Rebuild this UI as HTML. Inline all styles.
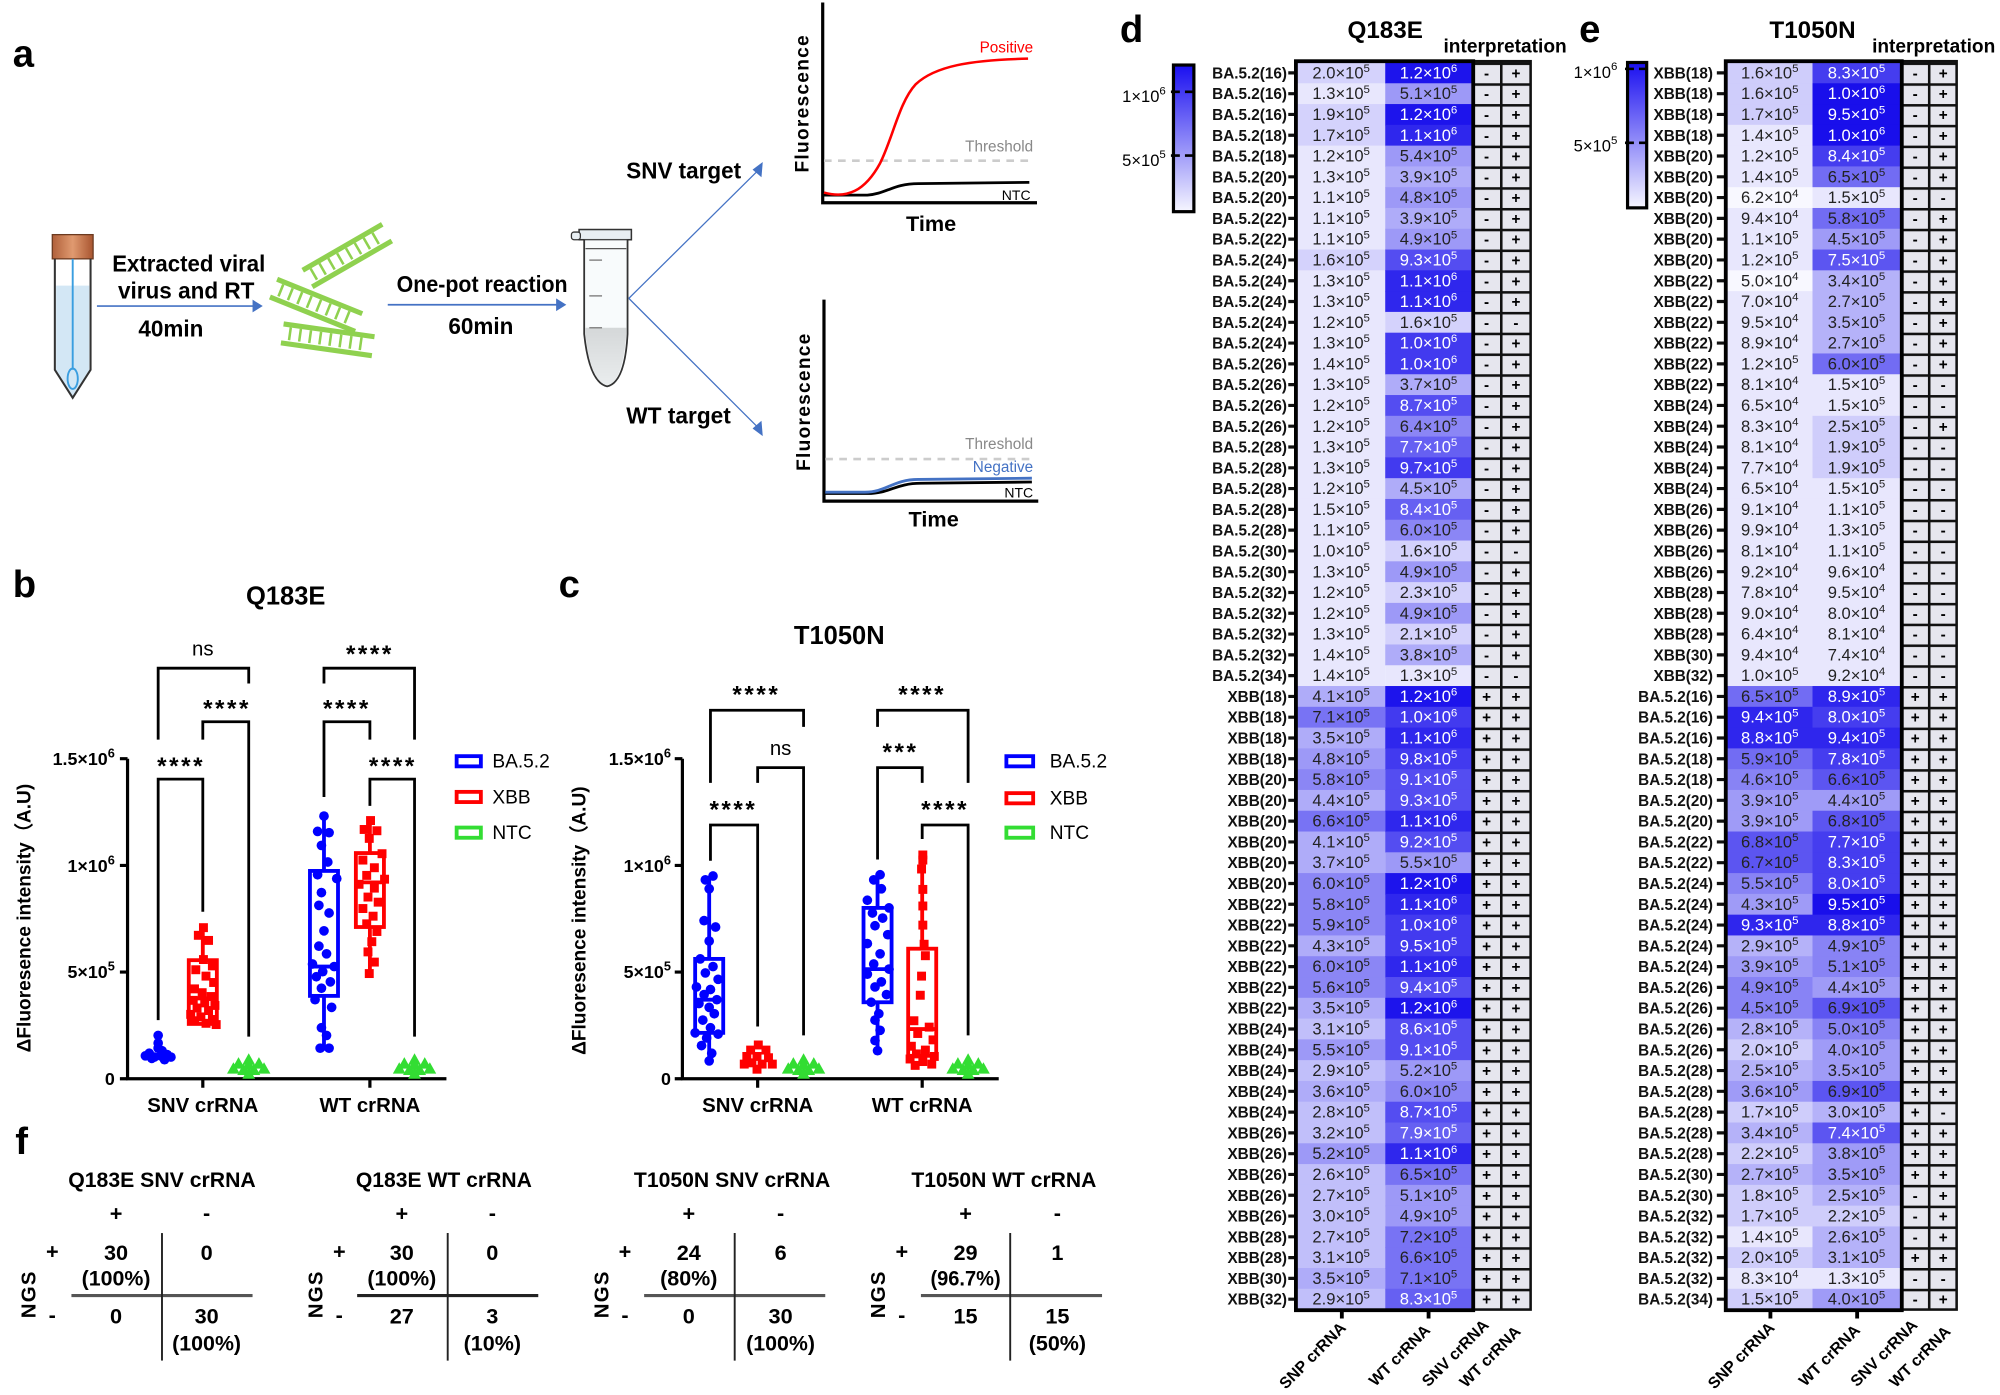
<!DOCTYPE html>
<html><head><meta charset="utf-8">
<style>
html,body{margin:0;padding:0;background:#fff}
svg{display:block}
text{font-family:"Liberation Sans",sans-serif}
.rl{font-weight:bold;font-size:12px;text-anchor:end;fill:#111}
.cv{font-size:13px;text-anchor:middle;fill:#222}
.s{font-size:9px}
.w{fill:#fff}
.ip{font-weight:bold;font-size:12px;text-anchor:middle}
.a0{fill:rgb(248,248,255)}.a1{fill:rgb(232,231,253)}.a2{fill:rgb(212,210,252)}.a3{fill:rgb(193,191,250)}.a4{fill:rgb(175,172,249)}.a5{fill:rgb(157,153,247)}.a6{fill:rgb(139,134,245)}.a7{fill:rgb(120,115,244)}.a8{fill:rgb(102,96,242)}.a9{fill:rgb(84,77,241)}.a10{fill:rgb(66,58,239)}.a11{fill:rgb(47,39,237)}.a12{fill:rgb(29,20,236)}
.b0{fill:rgb(248,248,255)}.b1{fill:rgb(232,231,253)}.b2{fill:rgb(207,205,251)}.b3{fill:rgb(181,178,249)}.b4{fill:rgb(159,155,247)}.b5{fill:rgb(136,131,245)}.b6{fill:rgb(114,108,243)}.b7{fill:rgb(92,85,241)}.b8{fill:rgb(69,61,239)}.b9{fill:rgb(47,38,237)}.b10{fill:rgb(25,15,235)}
.tk{font-weight:bold;font-size:14px;text-anchor:end}
.xl{font-weight:bold;font-size:16px;text-anchor:middle}
.st{font-weight:bold;font-size:19px;text-anchor:middle;letter-spacing:2px}
.lg{font-size:15px}
.pl{font-weight:bold;font-size:30px}
.fx{font-size:17px;text-anchor:middle}
.ax{stroke:#000;stroke-width:2.5;fill:none}
.br{stroke:#000;stroke-width:2.2;fill:none}
</style></head><body>
<svg width="2000" height="1395" viewBox="0 0 1568 1094" preserveAspectRatio="none" xmlns="http://www.w3.org/2000/svg">
<defs>
<linearGradient id="cb" x1="0" y1="0" x2="0" y2="1"><stop offset="0" stop-color="#1a0ff0"/><stop offset="1" stop-color="#f6f6ff"/></linearGradient>
<linearGradient id="cap" x1="0" y1="0" x2="1" y2="0"><stop offset="0" stop-color="#b0603a"/><stop offset=".5" stop-color="#e09a70"/><stop offset="1" stop-color="#a85530"/></linearGradient>
<linearGradient id="liq" x1="0" y1="0" x2="0" y2="1"><stop offset="0" stop-color="#c4c4c4"/><stop offset="1" stop-color="#e8e8e8"/></linearGradient>
<pattern id="hp" patternUnits="userSpaceOnUse" x="0" y="49" width="1600" height="16.3"><rect width="1600" height="16.3" fill="#e6e6ee"/><rect width="1600" height="2" fill="#111"/></pattern>
</defs>

<text x="10" y="52" class="pl">a</text>
<text x="10" y="468" class="pl">b</text>
<text x="438" y="468" class="pl">c</text>
<text x="878" y="33" class="pl">d</text>
<text x="1238" y="33" class="pl">e</text>
<text x="12" y="905" class="pl">f</text>

<!-- ===== panel a ===== -->
<rect x="41" y="184" width="32" height="19" fill="url(#cap)" stroke="#6b3a20" stroke-width="1"/>
<path d="M44,224 L70,224 L70,290 L57,311 L44,290 Z" fill="#d3e7f5"/>
<path d="M43,203 L43,290 L57,312 L71,290 L71,203" fill="none" stroke="#333" stroke-width="1.6"/>
<line x1="57" y1="203" x2="57" y2="290" stroke="#3a9ee0" stroke-width="1.5"/>
<ellipse cx="57" cy="297" rx="4" ry="8" fill="none" stroke="#3a9ee0" stroke-width="1.5"/>
<text x="148" y="213" font-weight="bold" font-size="18" text-anchor="middle" textLength="120" lengthAdjust="spacingAndGlyphs">Extracted viral</text>
<text x="146" y="234" font-weight="bold" font-size="18" text-anchor="middle" textLength="107" lengthAdjust="spacingAndGlyphs">virus and RT</text>
<text x="134" y="264" font-weight="bold" font-size="18" text-anchor="middle" textLength="51" lengthAdjust="spacingAndGlyphs">40min</text>
<line x1="76" y1="240" x2="200" y2="240" stroke="#4472c4" stroke-width="1.3"/>
<polygon points="198,235 206,240 198,245" fill="#4472c4"/>
<g stroke="#8fd14f" fill="none">
<g transform="translate(272,200) rotate(-30)"><line x1="-36" y1="-7" x2="36" y2="-7" stroke-width="4"/><line x1="-36" y1="8" x2="36" y2="8" stroke-width="4"/><path d="M-30,-5v10M-22,-5v10M-14,-5v10M-6,-5v10M2,-5v10M10,-5v10M18,-5v10M26,-5v10" stroke-width="2"/></g>
<g transform="translate(248,239) rotate(22)"><line x1="-36" y1="-7" x2="36" y2="-7" stroke-width="4"/><line x1="-36" y1="8" x2="36" y2="8" stroke-width="4"/><path d="M-30,-5v10M-22,-5v10M-14,-5v10M-6,-5v10M2,-5v10M10,-5v10M18,-5v10M26,-5v10" stroke-width="2"/></g>
<g transform="translate(257,266) rotate(8)"><line x1="-36" y1="-7" x2="36" y2="-7" stroke-width="4"/><line x1="-36" y1="8" x2="36" y2="8" stroke-width="4"/><path d="M-30,-5v10M-22,-5v10M-14,-5v10M-6,-5v10M2,-5v10M10,-5v10M18,-5v10M26,-5v10" stroke-width="2"/></g>
</g>
<text x="378" y="229" font-weight="bold" font-size="18" text-anchor="middle" textLength="134" lengthAdjust="spacingAndGlyphs">One-pot reaction</text>
<text x="377" y="262" font-weight="bold" font-size="18" text-anchor="middle" textLength="51" lengthAdjust="spacingAndGlyphs">60min</text>
<line x1="304" y1="239" x2="438" y2="239" stroke="#4472c4" stroke-width="1.3"/>
<polygon points="436,234 444,239 436,244" fill="#4472c4"/>
<rect x="454" y="180" width="41" height="8" fill="#e8eef2" stroke="#333" stroke-width="1.2"/>
<rect x="448" y="182" width="7" height="6" rx="2" fill="#e8eef2" stroke="#333" stroke-width="1"/>
<path d="M459,257 L491,257 L491,262 Q488,300 476,302 Q463,300 459,262 Z" fill="url(#liq)"/>
<path d="M458,188 L458,262 Q462,300 476,303 Q490,300 492,262 L492,188" fill="#eef4f8" fill-opacity=".4" stroke="#333" stroke-width="1.4"/>
<line x1="459" y1="195" x2="491" y2="195" stroke="#555" stroke-width="1"/>
<path d="M462,204h10M462,232h10M462,257h10" stroke="#888" stroke-width="1.2"/>
<line x1="493" y1="234" x2="596" y2="132" stroke="#4472c4" stroke-width="1"/>
<polygon points="598,127 597,139 590,133" fill="#4472c4"/>
<line x1="493" y1="234" x2="596" y2="337" stroke="#4472c4" stroke-width="1"/>
<polygon points="598,342 590,336 597,330" fill="#4472c4"/>
<text x="536" y="140" font-weight="bold" font-size="18" text-anchor="middle" textLength="90" lengthAdjust="spacingAndGlyphs">SNV target</text>
<text x="532" y="332" font-weight="bold" font-size="18" text-anchor="middle" textLength="82" lengthAdjust="spacingAndGlyphs">WT target</text>
<path d="M645,2 L645,159 L813,159" class="ax"/>
<line x1="646" y1="126" x2="806" y2="126" stroke="#ccc" stroke-width="2" stroke-dasharray="6 5"/>
<path d="M646,153 L680,153 C695,152 700,144 720,144 L807,143" stroke="#000" stroke-width="2.2" fill="none"/>
<path d="M646,151 C664,156 678,150 690,128 C700,108 705,80 718,66 C733,52 760,47 806,46" stroke="#f00" stroke-width="2" fill="none"/>
<text x="810" y="41" font-size="12" fill="#f00" text-anchor="end">Positive</text>
<text x="810" y="119" font-size="12" fill="#888" text-anchor="end">Threshold</text>
<text x="808" y="157" font-size="11" text-anchor="end">NTC</text>
<text transform="translate(634,81) rotate(-90)" font-weight="bold" font-size="15" text-anchor="middle" letter-spacing="1">Fluorescence</text>
<text x="730" y="181" font-weight="bold" font-size="17" text-anchor="middle">Time</text>
<path d="M646,235 L646,393 L814,393" class="ax"/>
<line x1="647" y1="360" x2="808" y2="360" stroke="#ccc" stroke-width="2" stroke-dasharray="6 5"/>
<path d="M647,387 L680,387 C698,387 702,379 722,379 L809,378" stroke="#000" stroke-width="2.2" fill="none"/>
<path d="M647,386 L678,386 C695,386 700,376 720,376 L809,375" stroke="#4472c4" stroke-width="2.2" fill="none"/>
<text x="810" y="352" font-size="12" fill="#888" text-anchor="end">Threshold</text>
<text x="810" y="370" font-size="12" fill="#4472c4" text-anchor="end">Negative</text>
<text x="810" y="390" font-size="11" text-anchor="end">NTC</text>
<text transform="translate(635,315) rotate(-90)" font-weight="bold" font-size="15" text-anchor="middle" letter-spacing="1">Fluorescence</text>
<text x="732" y="413" font-weight="bold" font-size="17" text-anchor="middle">Time</text>

<!-- ===== panel b ===== -->
<text x="224" y="474" font-weight="bold" font-size="20" text-anchor="middle">Q183E</text>
<path d="M100,595 L100,846 L350,846" class="ax"/>
<path d="M94,595H100M94,678.7H100M94,762.3H100M94,846H100M159,846V853M290,846V853" class="ax"/>
<text x="90" y="600" class="tk">1.5×10<tspan dy="-6" font-size="10">6</tspan></text>
<text x="90" y="684" class="tk">1×10<tspan dy="-6" font-size="10">6</tspan></text>
<text x="90" y="767" class="tk">5×10<tspan dy="-6" font-size="10">5</tspan></text>
<text x="90" y="851" class="tk">0</text>
<text x="159" y="872" class="xl">SNV crRNA</text>
<text x="290" y="872" class="xl">WT crRNA</text>
<text transform="translate(24,720) rotate(-90)" font-weight="bold" font-size="15" text-anchor="middle">ΔFluoresence intensity（A.U)</text>
<path d="M124,580V524H195V536M159,580V566H195V813M124,800V611H159V715M254,536V524H325V580M254,625V566H290V580M290,632V611H325V813" class="br"/>
<text x="159" y="514" font-size="16" text-anchor="middle">ns</text>
<text x="178" y="562" class="st">****</text>
<text x="142" y="607" class="st">****</text>
<text x="290" y="519" class="st">****</text>
<text x="272" y="562" class="st">****</text>
<text x="308" y="607" class="st">****</text>
<rect x="358" y="593" width="19" height="8" fill="none" stroke="#00f" stroke-width="3"/>
<rect x="358" y="621" width="19" height="8" fill="none" stroke="#f00" stroke-width="3"/>
<rect x="358" y="649" width="19" height="8" fill="none" stroke="#3d3" stroke-width="3"/>
<text x="386" y="602" class="lg">BA.5.2</text><text x="386" y="630" class="lg">XBB</text><text x="386" y="658" class="lg">NTC</text>
<g fill="#00f">
<circle cx="117" cy="826" r="3.8"/><circle cx="121" cy="829" r="3.8"/><circle cx="126" cy="828" r="3.8"/><circle cx="131" cy="827" r="3.8"/><circle cx="124" cy="822" r="3.8"/><circle cx="119" cy="830" r="3.8"/><circle cx="129" cy="831" r="3.8"/><circle cx="124" cy="818" r="3.8"/><circle cx="124" cy="812" r="3.8"/><circle cx="114" cy="828" r="3.8"/><circle cx="134" cy="829" r="3.8"/><circle cx="127" cy="824" r="3.8"/>
</g>
<g stroke="#f00" stroke-width="3" fill="none"><line x1="159" y1="726" x2="159" y2="753"/><rect x="148" y="753" width="22" height="50"/><line x1="148" y1="783" x2="170" y2="783"/></g>
<g fill="#f00">
<rect x="156" y="724" width="7" height="7"/><rect x="152" y="730" width="7" height="7"/><rect x="160" y="734" width="7" height="7"/><rect x="156" y="749" width="7" height="7"/><rect x="163" y="754" width="7" height="7"/><rect x="150" y="757" width="7" height="7"/><rect x="158" y="762" width="7" height="7"/><rect x="164" y="767" width="7" height="7"/><rect x="149" y="772" width="7" height="7"/><rect x="155" y="775" width="7" height="7"/><rect x="162" y="778" width="7" height="7"/><rect x="148" y="781" width="7" height="7"/><rect x="157" y="783" width="7" height="7"/><rect x="165" y="785" width="7" height="7"/><rect x="151" y="787" width="7" height="7"/><rect x="160" y="789" width="7" height="7"/><rect x="146" y="792" width="7" height="7"/><rect x="154" y="794" width="7" height="7"/><rect x="163" y="796" width="7" height="7"/><rect x="149" y="797" width="7" height="7"/><rect x="158" y="799" width="7" height="7"/><rect x="166" y="800" width="7" height="7"/>
</g>
<g fill="#3d3">
<polygon points="195,826 190,835 200,835"/><polygon points="187,829 182,838 192,838"/><polygon points="203,829 198,838 208,838"/><polygon points="191,834 186,843 196,843"/><polygon points="199,834 194,843 204,843"/><polygon points="195,837 190,846 200,846"/><polygon points="183,833 178,842 188,842"/><polygon points="207,833 202,842 212,842"/><polygon points="195,830 190,839 200,839"/>
<polygon points="325,826 320,835 330,835"/><polygon points="317,829 312,838 322,838"/><polygon points="333,829 328,838 338,838"/><polygon points="321,834 316,843 326,843"/><polygon points="329,834 324,843 334,843"/><polygon points="325,837 320,846 330,846"/><polygon points="313,833 308,842 318,842"/><polygon points="337,833 332,842 342,842"/><polygon points="325,830 320,839 330,839"/>
</g>
<g stroke="#00f" stroke-width="3" fill="none"><line x1="254" y1="638" x2="254" y2="683"/><line x1="254" y1="781" x2="254" y2="824"/><rect x="243" y="683" width="22" height="98"/><line x1="243" y1="758" x2="265" y2="758"/></g>
<g fill="#00f">
<circle cx="254" cy="640" r="3.8"/><circle cx="249" cy="652" r="3.8"/><circle cx="258" cy="653" r="3.8"/><circle cx="252" cy="663" r="3.8"/><circle cx="257" cy="676" r="3.8"/><circle cx="249" cy="686" r="3.8"/><circle cx="264" cy="689" r="3.8"/><circle cx="252" cy="700" r="3.8"/><circle cx="250" cy="710" r="3.8"/><circle cx="258" cy="716" r="3.8"/><circle cx="254" cy="730" r="3.8"/><circle cx="250" cy="742" r="3.8"/><circle cx="256" cy="748" r="3.8"/><circle cx="245" cy="756" r="3.8"/><circle cx="262" cy="758" r="3.8"/><circle cx="253" cy="762" r="3.8"/><circle cx="248" cy="766" r="3.8"/><circle cx="259" cy="770" r="3.8"/><circle cx="252" cy="775" r="3.8"/><circle cx="247" cy="784" r="3.8"/><circle cx="260" cy="790" r="3.8"/><circle cx="252" cy="806" r="3.8"/><circle cx="256" cy="812" r="3.8"/><circle cx="251" cy="822" r="3.8"/><circle cx="258" cy="822" r="3.8"/>
</g>
<g stroke="#f00" stroke-width="3" fill="none"><line x1="290" y1="643" x2="290" y2="669"/><line x1="290" y1="727" x2="290" y2="764"/><rect x="279" y="669" width="22" height="58"/><line x1="279" y1="692" x2="301" y2="692"/></g>
<g fill="#f00">
<rect x="287" y="640" width="7" height="7"/><rect x="282" y="647" width="7" height="7"/><rect x="292" y="648" width="7" height="7"/><rect x="286" y="654" width="7" height="7"/><rect x="296" y="666" width="7" height="7"/><rect x="281" y="671" width="7" height="7"/><rect x="290" y="677" width="7" height="7"/><rect x="284" y="683" width="7" height="7"/><rect x="298" y="686" width="7" height="7"/><rect x="278" y="690" width="7" height="7"/><rect x="290" y="693" width="7" height="7"/><rect x="285" y="700" width="7" height="7"/><rect x="293" y="704" width="7" height="7"/><rect x="281" y="709" width="7" height="7"/><rect x="289" y="715" width="7" height="7"/><rect x="284" y="721" width="7" height="7"/><rect x="292" y="727" width="7" height="7"/><rect x="288" y="735" width="7" height="7"/><rect x="285" y="743" width="7" height="7"/><rect x="290" y="751" width="7" height="7"/><rect x="286" y="760" width="7" height="7"/>
</g>

<!-- ===== panel c ===== -->
<text x="658" y="505" font-weight="bold" font-size="20" text-anchor="middle">T1050N</text>
<path d="M535,595 L535,846 L783,846" class="ax"/>
<path d="M529,595H535M529,678.7H535M529,762.3H535M529,846H535M594,846V853M723,846V853" class="ax"/>
<text x="526" y="600" class="tk">1.5×10<tspan dy="-6" font-size="10">6</tspan></text>
<text x="526" y="684" class="tk">1×10<tspan dy="-6" font-size="10">6</tspan></text>
<text x="526" y="767" class="tk">5×10<tspan dy="-6" font-size="10">5</tspan></text>
<text x="526" y="851" class="tk">0</text>
<text x="594" y="872" class="xl">SNV crRNA</text>
<text x="723" y="872" class="xl">WT crRNA</text>
<text transform="translate(459,722) rotate(-90)" font-weight="bold" font-size="15" text-anchor="middle">ΔFluoresence intensity（A.U)</text>
<path d="M557,614V557H630V570M594,614V602H630V812M557,675V647H594V805M688,570V557H759V614M688,674V602H723V614M723,658V647H759V812" class="br"/>
<text x="593" y="551" class="st">****</text>
<text x="612" y="592" font-size="16" text-anchor="middle">ns</text>
<text x="575" y="641" class="st">****</text>
<text x="723" y="551" class="st">****</text>
<text x="706" y="596" class="st">***</text>
<text x="741" y="641" class="st">****</text>
<rect x="789" y="593" width="21" height="8" fill="none" stroke="#00f" stroke-width="3"/>
<rect x="789" y="622" width="21" height="8" fill="none" stroke="#f00" stroke-width="3"/>
<rect x="789" y="649" width="21" height="8" fill="none" stroke="#3d3" stroke-width="3"/>
<text x="823" y="602" class="lg">BA.5.2</text><text x="823" y="631" class="lg">XBB</text><text x="823" y="658" class="lg">NTC</text>
<g transform="translate(-3,0)">
<g stroke="#00f" stroke-width="3" fill="none"><line x1="559" y1="687" x2="559" y2="752"/><line x1="559" y1="810" x2="559" y2="832"/><rect x="548" y="752" width="22" height="58"/><line x1="548" y1="784" x2="570" y2="784"/></g>
<g fill="#00f">
<circle cx="562" cy="687" r="3.8"/><circle cx="556" cy="690" r="3.8"/><circle cx="559" cy="697" r="3.8"/><circle cx="555" cy="722" r="3.8"/><circle cx="564" cy="727" r="3.8"/><circle cx="559" cy="738" r="3.8"/><circle cx="552" cy="752" r="3.8"/><circle cx="562" cy="758" r="3.8"/><circle cx="556" cy="763" r="3.8"/><circle cx="566" cy="768" r="3.8"/><circle cx="549" cy="774" r="3.8"/><circle cx="560" cy="776" r="3.8"/><circle cx="555" cy="780" r="3.8"/><circle cx="565" cy="784" r="3.8"/><circle cx="551" cy="787" r="3.8"/><circle cx="559" cy="790" r="3.8"/><circle cx="563" cy="795" r="3.8"/><circle cx="554" cy="800" r="3.8"/><circle cx="560" cy="806" r="3.8"/><circle cx="548" cy="810" r="3.8"/><circle cx="566" cy="811" r="3.8"/><circle cx="557" cy="814" r="3.8"/><circle cx="553" cy="820" r="3.8"/><circle cx="561" cy="826" r="3.8"/><circle cx="559" cy="832" r="3.8"/>
</g>
</g>
<g fill="#f00">
<rect x="591" y="816" width="7" height="7"/><rect x="585" y="820" width="7" height="7"/><rect x="597" y="820" width="7" height="7"/><rect x="582" y="825" width="7" height="7"/><rect x="590" y="825" width="7" height="7"/><rect x="599" y="826" width="7" height="7"/><rect x="586" y="830" width="7" height="7"/><rect x="594" y="831" width="7" height="7"/><rect x="580" y="831" width="7" height="7"/><rect x="602" y="831" width="7" height="7"/><rect x="590" y="835" width="7" height="7"/>
</g>
<g fill="#3d3">
<polygon points="630,826 625,835 635,835"/><polygon points="622,829 617,838 627,838"/><polygon points="638,829 633,838 643,838"/><polygon points="626,834 621,843 631,843"/><polygon points="634,834 629,843 639,843"/><polygon points="630,837 625,846 635,846"/><polygon points="618,833 613,842 623,842"/><polygon points="642,833 637,842 647,842"/><polygon points="630,830 625,839 635,839"/>
<polygon points="759,826 754,835 764,835"/><polygon points="751,829 746,838 756,838"/><polygon points="767,829 762,838 772,838"/><polygon points="755,834 750,843 760,843"/><polygon points="763,834 758,843 768,843"/><polygon points="759,837 754,846 764,846"/><polygon points="747,833 742,842 752,842"/><polygon points="771,833 766,842 776,842"/><polygon points="759,830 754,839 764,839"/>
</g>
<g stroke="#00f" stroke-width="3" fill="none"><line x1="688" y1="686" x2="688" y2="712"/><line x1="688" y1="786" x2="688" y2="824"/><rect x="677" y="712" width="22" height="74"/><line x1="677" y1="760" x2="699" y2="760"/></g>
<g fill="#00f">
<circle cx="690" cy="686" r="3.8"/><circle cx="685" cy="690" r="3.8"/><circle cx="691" cy="697" r="3.8"/><circle cx="680" cy="706" r="3.8"/><circle cx="697" cy="712" r="3.8"/><circle cx="684" cy="716" r="3.8"/><circle cx="692" cy="720" r="3.8"/><circle cx="686" cy="726" r="3.8"/><circle cx="696" cy="733" r="3.8"/><circle cx="680" cy="740" r="3.8"/><circle cx="690" cy="748" r="3.8"/><circle cx="685" cy="756" r="3.8"/><circle cx="697" cy="760" r="3.8"/><circle cx="680" cy="764" r="3.8"/><circle cx="691" cy="770" r="3.8"/><circle cx="686" cy="774" r="3.8"/><circle cx="695" cy="780" r="3.8"/><circle cx="683" cy="786" r="3.8"/><circle cx="689" cy="795" r="3.8"/><circle cx="686" cy="800" r="3.8"/><circle cx="690" cy="808" r="3.8"/><circle cx="686" cy="816" r="3.8"/><circle cx="688" cy="824" r="3.8"/>
</g>
<g stroke="#f00" stroke-width="3" fill="none"><line x1="723" y1="670" x2="723" y2="744"/><line x1="723" y1="828" x2="723" y2="835"/><rect x="712" y="744" width="22" height="84"/><line x1="712" y1="807" x2="734" y2="807"/></g>
<g fill="#f00">
<rect x="720" y="667" width="7" height="7"/><rect x="720" y="671" width="7" height="7"/><rect x="719" y="678" width="7" height="7"/><rect x="720" y="694" width="7" height="7"/><rect x="720" y="707" width="7" height="7"/><rect x="720" y="722" width="7" height="7"/><rect x="721" y="737" width="7" height="7"/><rect x="722" y="746" width="7" height="7"/><rect x="719" y="762" width="7" height="7"/><rect x="718" y="777" width="7" height="7"/><rect x="713" y="797" width="7" height="7"/><rect x="725" y="802" width="7" height="7"/><rect x="716" y="807" width="7" height="7"/><rect x="728" y="812" width="7" height="7"/><rect x="711" y="817" width="7" height="7"/><rect x="722" y="820" width="7" height="7"/><rect x="715" y="823" width="7" height="7"/><rect x="729" y="825" width="7" height="7"/><rect x="710" y="827" width="7" height="7"/><rect x="720" y="829" width="7" height="7"/><rect x="727" y="831" width="7" height="7"/><rect x="714" y="832" width="7" height="7"/>
</g>

<!-- ===== panel f ===== -->
<g font-weight="bold" font-size="17">
<text x="127" y="931" text-anchor="middle" textLength="147" lengthAdjust="spacingAndGlyphs">Q183E SNV crRNA</text>
<text x="348" y="931" text-anchor="middle" textLength="138" lengthAdjust="spacingAndGlyphs">Q183E WT crRNA</text>
<text x="574" y="931" text-anchor="middle" textLength="154" lengthAdjust="spacingAndGlyphs">T1050N SNV crRNA</text>
<text x="787" y="931" text-anchor="middle" textLength="145" lengthAdjust="spacingAndGlyphs">T1050N WT crRNA</text>
</g>
<g font-weight="bold">
<text x="91" y="957" class="fx">+</text><text x="162" y="957" class="fx">-</text>
<text x="315" y="957" class="fx">+</text><text x="386" y="957" class="fx">-</text>
<text x="540" y="957" class="fx">+</text><text x="612" y="957" class="fx">-</text>
<text x="757" y="957" class="fx">+</text><text x="829" y="957" class="fx">-</text>
<text x="41" y="987" class="fx">+</text><text x="41" y="1037" class="fx">-</text>
<text x="266" y="987" class="fx">+</text><text x="266" y="1037" class="fx">-</text>
<text x="490" y="987" class="fx">+</text><text x="490" y="1037" class="fx">-</text>
<text x="707" y="987" class="fx">+</text><text x="707" y="1037" class="fx">-</text>
</g>
<g font-weight="bold" font-size="16" text-anchor="middle">
<text transform="translate(28,1015) rotate(-90)" letter-spacing="1">NGS</text>
<text transform="translate(253,1015) rotate(-90)" letter-spacing="1">NGS</text>
<text transform="translate(477,1015) rotate(-90)" letter-spacing="1">NGS</text>
<text transform="translate(694,1015) rotate(-90)" letter-spacing="1">NGS</text>
</g>
<g stroke="#222" stroke-width="1.5">
<line x1="56" y1="1016" x2="198" y2="1016" stroke="#555" stroke-width="2.5"/><line x1="127" y1="967" x2="127" y2="1067"/>
<line x1="280" y1="1016" x2="422" y2="1016" stroke-width="2.5"/><line x1="351" y1="967" x2="351" y2="1067"/>
<line x1="505" y1="1016" x2="647" y2="1016" stroke="#555" stroke-width="2.5"/><line x1="576" y1="967" x2="576" y2="1067"/>
<line x1="722" y1="1016" x2="864" y2="1016" stroke="#555" stroke-width="2.5"/><line x1="792" y1="967" x2="792" y2="1067"/>
</g>
<g font-size="17" font-weight="bold" text-anchor="middle">
<text x="91" y="988">30</text><text x="91" y="1008" textLength="54" lengthAdjust="spacingAndGlyphs">(100%)</text><text x="162" y="988">0</text><text x="91" y="1038">0</text><text x="162" y="1038">30</text><text x="162" y="1059" textLength="54" lengthAdjust="spacingAndGlyphs">(100%)</text>
<text x="315" y="988">30</text><text x="315" y="1008" textLength="54" lengthAdjust="spacingAndGlyphs">(100%)</text><text x="386" y="988">0</text><text x="315" y="1038">27</text><text x="386" y="1038">3</text><text x="386" y="1059" textLength="45" lengthAdjust="spacingAndGlyphs">(10%)</text>
<text x="540" y="988">24</text><text x="540" y="1008" textLength="45" lengthAdjust="spacingAndGlyphs">(80%)</text><text x="612" y="988">6</text><text x="540" y="1038">0</text><text x="612" y="1038">30</text><text x="612" y="1059" textLength="54" lengthAdjust="spacingAndGlyphs">(100%)</text>
<text x="757" y="988">29</text><text x="757" y="1008" textLength="55" lengthAdjust="spacingAndGlyphs">(96.7%)</text><text x="829" y="988">1</text><text x="757" y="1038">15</text><text x="829" y="1038">15</text><text x="829" y="1059" textLength="45" lengthAdjust="spacingAndGlyphs">(50%)</text>
</g>

<!-- ===== panels d/e headers ===== -->
<text x="1086" y="30" font-weight="bold" font-size="19" text-anchor="middle">Q183E</text>
<text x="1180" y="41" font-weight="bold" font-size="15" text-anchor="middle">interpretation</text>
<text x="1421" y="30" font-weight="bold" font-size="19" text-anchor="middle">T1050N</text>
<text x="1516" y="41" font-weight="bold" font-size="15" text-anchor="middle">interpretation</text>
<rect x="920" y="51" width="16" height="115" fill="url(#cb)" stroke="#000" stroke-width="2.5"/>
<path d="M918,72H925M929,72H936M918,122H925M929,122H936" stroke="#000" stroke-width="2"/>
<text x="914" y="80" font-size="13" text-anchor="end">1×10<tspan dy="-6" font-size="9">6</tspan></text>
<text x="914" y="130" font-size="13" text-anchor="end">5×10<tspan dy="-6" font-size="9">5</tspan></text>
<rect x="1276" y="49" width="15" height="114" fill="url(#cb)" stroke="#000" stroke-width="2.5"/>
<path d="M1274,54H1281M1285,54H1291M1274,112H1281M1285,112H1291" stroke="#000" stroke-width="2"/>
<text x="1268" y="61" font-size="13" text-anchor="end">1×10<tspan dy="-6" font-size="9">6</tspan></text>
<text x="1268" y="119" font-size="13" text-anchor="end">5×10<tspan dy="-6" font-size="9">5</tspan></text>

<rect x="1154" y="48" width="46" height="979" fill="url(#hp)" stroke="#111" stroke-width="2"/>
<line x1="1177" y1="48" x2="1177" y2="1027" stroke="#111" stroke-width="2"/>
<rect x="1491" y="48" width="43" height="979" fill="url(#hp)" stroke="#111" stroke-width="2"/>
<line x1="1512.5" y1="48" x2="1512.5" y2="1027" stroke="#111" stroke-width="2"/>
<line x1="1013" y1="49" x2="1013" y2="1027" stroke="#111" stroke-width="6" stroke-dasharray="2.5 13.8" stroke-dashoffset="9.4"/>
<line x1="1349" y1="49" x2="1349" y2="1027" stroke="#111" stroke-width="6" stroke-dasharray="2.5 13.8" stroke-dashoffset="9.4"/>

<!-- rows -->
<g transform="translate(0,49)"><text x="1009" y="12.5" class="rl">BA.5.2(16)</text><rect x="1017" width="69" height="16.8" class="a2"/><text x="1051.5" y="12.5" class="cv">2.0×10<tspan class="s" dy="-5">5</tspan></text><rect x="1086" width="68" height="16.8" class="a12"/><text x="1120" y="12.5" class="cv w">1.2×10<tspan class="s" dy="-5">6</tspan></text><text x="1165.5" y="12.5" class="ip">-</text><text x="1188.5" y="12.5" class="ip">+</text><text x="1343" y="12.5" class="rl">XBB(18)</text><rect x="1354" width="67" height="16.8" class="b2"/><text x="1387.5" y="12.5" class="cv">1.6×10<tspan class="s" dy="-5">5</tspan></text><rect x="1421" width="69" height="16.8" class="b8"/><text x="1455.5" y="12.5" class="cv w">8.3×10<tspan class="s" dy="-5">5</tspan></text><text x="1501.5" y="12.5" class="ip">-</text><text x="1523.5" y="12.5" class="ip">+</text></g>
<g transform="translate(0,65.3)"><text x="1009" y="12.5" class="rl">BA.5.2(16)</text><rect x="1017" width="69" height="16.8" class="a1"/><text x="1051.5" y="12.5" class="cv">1.3×10<tspan class="s" dy="-5">5</tspan></text><rect x="1086" width="68" height="16.8" class="a5"/><text x="1120" y="12.5" class="cv">5.1×10<tspan class="s" dy="-5">5</tspan></text><text x="1165.5" y="12.5" class="ip">-</text><text x="1188.5" y="12.5" class="ip">+</text><text x="1343" y="12.5" class="rl">XBB(18)</text><rect x="1354" width="67" height="16.8" class="b2"/><text x="1387.5" y="12.5" class="cv">1.6×10<tspan class="s" dy="-5">5</tspan></text><rect x="1421" width="69" height="16.8" class="b10"/><text x="1455.5" y="12.5" class="cv w">1.0×10<tspan class="s" dy="-5">6</tspan></text><text x="1501.5" y="12.5" class="ip">-</text><text x="1523.5" y="12.5" class="ip">+</text></g>
<g transform="translate(0,81.6)"><text x="1009" y="12.5" class="rl">BA.5.2(16)</text><rect x="1017" width="69" height="16.8" class="a2"/><text x="1051.5" y="12.5" class="cv">1.9×10<tspan class="s" dy="-5">5</tspan></text><rect x="1086" width="68" height="16.8" class="a12"/><text x="1120" y="12.5" class="cv w">1.2×10<tspan class="s" dy="-5">6</tspan></text><text x="1165.5" y="12.5" class="ip">-</text><text x="1188.5" y="12.5" class="ip">+</text><text x="1343" y="12.5" class="rl">XBB(18)</text><rect x="1354" width="67" height="16.8" class="b2"/><text x="1387.5" y="12.5" class="cv">1.7×10<tspan class="s" dy="-5">5</tspan></text><rect x="1421" width="69" height="16.8" class="b10"/><text x="1455.5" y="12.5" class="cv w">9.5×10<tspan class="s" dy="-5">5</tspan></text><text x="1501.5" y="12.5" class="ip">-</text><text x="1523.5" y="12.5" class="ip">+</text></g>
<g transform="translate(0,97.9)"><text x="1009" y="12.5" class="rl">BA.5.2(18)</text><rect x="1017" width="69" height="16.8" class="a2"/><text x="1051.5" y="12.5" class="cv">1.7×10<tspan class="s" dy="-5">5</tspan></text><rect x="1086" width="68" height="16.8" class="a11"/><text x="1120" y="12.5" class="cv w">1.1×10<tspan class="s" dy="-5">6</tspan></text><text x="1165.5" y="12.5" class="ip">-</text><text x="1188.5" y="12.5" class="ip">+</text><text x="1343" y="12.5" class="rl">XBB(18)</text><rect x="1354" width="67" height="16.8" class="b1"/><text x="1387.5" y="12.5" class="cv">1.4×10<tspan class="s" dy="-5">5</tspan></text><rect x="1421" width="69" height="16.8" class="b10"/><text x="1455.5" y="12.5" class="cv w">1.0×10<tspan class="s" dy="-5">6</tspan></text><text x="1501.5" y="12.5" class="ip">-</text><text x="1523.5" y="12.5" class="ip">+</text></g>
<g transform="translate(0,114.2)"><text x="1009" y="12.5" class="rl">BA.5.2(18)</text><rect x="1017" width="69" height="16.8" class="a1"/><text x="1051.5" y="12.5" class="cv">1.2×10<tspan class="s" dy="-5">5</tspan></text><rect x="1086" width="68" height="16.8" class="a5"/><text x="1120" y="12.5" class="cv">5.4×10<tspan class="s" dy="-5">5</tspan></text><text x="1165.5" y="12.5" class="ip">-</text><text x="1188.5" y="12.5" class="ip">+</text><text x="1343" y="12.5" class="rl">XBB(20)</text><rect x="1354" width="67" height="16.8" class="b1"/><text x="1387.5" y="12.5" class="cv">1.2×10<tspan class="s" dy="-5">5</tspan></text><rect x="1421" width="69" height="16.8" class="b8"/><text x="1455.5" y="12.5" class="cv w">8.4×10<tspan class="s" dy="-5">5</tspan></text><text x="1501.5" y="12.5" class="ip">-</text><text x="1523.5" y="12.5" class="ip">+</text></g>
<g transform="translate(0,130.5)"><text x="1009" y="12.5" class="rl">BA.5.2(20)</text><rect x="1017" width="69" height="16.8" class="a1"/><text x="1051.5" y="12.5" class="cv">1.3×10<tspan class="s" dy="-5">5</tspan></text><rect x="1086" width="68" height="16.8" class="a4"/><text x="1120" y="12.5" class="cv">3.9×10<tspan class="s" dy="-5">5</tspan></text><text x="1165.5" y="12.5" class="ip">-</text><text x="1188.5" y="12.5" class="ip">+</text><text x="1343" y="12.5" class="rl">XBB(20)</text><rect x="1354" width="67" height="16.8" class="b1"/><text x="1387.5" y="12.5" class="cv">1.4×10<tspan class="s" dy="-5">5</tspan></text><rect x="1421" width="69" height="16.8" class="b6"/><text x="1455.5" y="12.5" class="cv">6.5×10<tspan class="s" dy="-5">5</tspan></text><text x="1501.5" y="12.5" class="ip">-</text><text x="1523.5" y="12.5" class="ip">+</text></g>
<g transform="translate(0,146.8)"><text x="1009" y="12.5" class="rl">BA.5.2(20)</text><rect x="1017" width="69" height="16.8" class="a1"/><text x="1051.5" y="12.5" class="cv">1.1×10<tspan class="s" dy="-5">5</tspan></text><rect x="1086" width="68" height="16.8" class="a5"/><text x="1120" y="12.5" class="cv">4.8×10<tspan class="s" dy="-5">5</tspan></text><text x="1165.5" y="12.5" class="ip">-</text><text x="1188.5" y="12.5" class="ip">+</text><text x="1343" y="12.5" class="rl">XBB(20)</text><rect x="1354" width="67" height="16.8" class="b0"/><text x="1387.5" y="12.5" class="cv">6.2×10<tspan class="s" dy="-5">4</tspan></text><rect x="1421" width="69" height="16.8" class="b1"/><text x="1455.5" y="12.5" class="cv">1.5×10<tspan class="s" dy="-5">5</tspan></text><text x="1501.5" y="12.5" class="ip">-</text><text x="1523.5" y="12.5" class="ip">-</text></g>
<g transform="translate(0,163.1)"><text x="1009" y="12.5" class="rl">BA.5.2(22)</text><rect x="1017" width="69" height="16.8" class="a1"/><text x="1051.5" y="12.5" class="cv">1.1×10<tspan class="s" dy="-5">5</tspan></text><rect x="1086" width="68" height="16.8" class="a4"/><text x="1120" y="12.5" class="cv">3.9×10<tspan class="s" dy="-5">5</tspan></text><text x="1165.5" y="12.5" class="ip">-</text><text x="1188.5" y="12.5" class="ip">+</text><text x="1343" y="12.5" class="rl">XBB(20)</text><rect x="1354" width="67" height="16.8" class="b1"/><text x="1387.5" y="12.5" class="cv">9.4×10<tspan class="s" dy="-5">4</tspan></text><rect x="1421" width="69" height="16.8" class="b6"/><text x="1455.5" y="12.5" class="cv">5.8×10<tspan class="s" dy="-5">5</tspan></text><text x="1501.5" y="12.5" class="ip">-</text><text x="1523.5" y="12.5" class="ip">+</text></g>
<g transform="translate(0,179.4)"><text x="1009" y="12.5" class="rl">BA.5.2(22)</text><rect x="1017" width="69" height="16.8" class="a1"/><text x="1051.5" y="12.5" class="cv">1.1×10<tspan class="s" dy="-5">5</tspan></text><rect x="1086" width="68" height="16.8" class="a5"/><text x="1120" y="12.5" class="cv">4.9×10<tspan class="s" dy="-5">5</tspan></text><text x="1165.5" y="12.5" class="ip">-</text><text x="1188.5" y="12.5" class="ip">+</text><text x="1343" y="12.5" class="rl">XBB(20)</text><rect x="1354" width="67" height="16.8" class="b1"/><text x="1387.5" y="12.5" class="cv">1.1×10<tspan class="s" dy="-5">5</tspan></text><rect x="1421" width="69" height="16.8" class="b4"/><text x="1455.5" y="12.5" class="cv">4.5×10<tspan class="s" dy="-5">5</tspan></text><text x="1501.5" y="12.5" class="ip">-</text><text x="1523.5" y="12.5" class="ip">+</text></g>
<g transform="translate(0,195.7)"><text x="1009" y="12.5" class="rl">BA.5.2(24)</text><rect x="1017" width="69" height="16.8" class="a2"/><text x="1051.5" y="12.5" class="cv">1.6×10<tspan class="s" dy="-5">5</tspan></text><rect x="1086" width="68" height="16.8" class="a9"/><text x="1120" y="12.5" class="cv w">9.3×10<tspan class="s" dy="-5">5</tspan></text><text x="1165.5" y="12.5" class="ip">-</text><text x="1188.5" y="12.5" class="ip">+</text><text x="1343" y="12.5" class="rl">XBB(20)</text><rect x="1354" width="67" height="16.8" class="b1"/><text x="1387.5" y="12.5" class="cv">1.2×10<tspan class="s" dy="-5">5</tspan></text><rect x="1421" width="69" height="16.8" class="b7"/><text x="1455.5" y="12.5" class="cv w">7.5×10<tspan class="s" dy="-5">5</tspan></text><text x="1501.5" y="12.5" class="ip">-</text><text x="1523.5" y="12.5" class="ip">+</text></g>
<g transform="translate(0,212)"><text x="1009" y="12.5" class="rl">BA.5.2(24)</text><rect x="1017" width="69" height="16.8" class="a1"/><text x="1051.5" y="12.5" class="cv">1.3×10<tspan class="s" dy="-5">5</tspan></text><rect x="1086" width="68" height="16.8" class="a11"/><text x="1120" y="12.5" class="cv w">1.1×10<tspan class="s" dy="-5">6</tspan></text><text x="1165.5" y="12.5" class="ip">-</text><text x="1188.5" y="12.5" class="ip">+</text><text x="1343" y="12.5" class="rl">XBB(22)</text><rect x="1354" width="67" height="16.8" class="b0"/><text x="1387.5" y="12.5" class="cv">5.0×10<tspan class="s" dy="-5">4</tspan></text><rect x="1421" width="69" height="16.8" class="b3"/><text x="1455.5" y="12.5" class="cv">3.4×10<tspan class="s" dy="-5">5</tspan></text><text x="1501.5" y="12.5" class="ip">-</text><text x="1523.5" y="12.5" class="ip">+</text></g>
<g transform="translate(0,228.3)"><text x="1009" y="12.5" class="rl">BA.5.2(24)</text><rect x="1017" width="69" height="16.8" class="a1"/><text x="1051.5" y="12.5" class="cv">1.3×10<tspan class="s" dy="-5">5</tspan></text><rect x="1086" width="68" height="16.8" class="a11"/><text x="1120" y="12.5" class="cv w">1.1×10<tspan class="s" dy="-5">6</tspan></text><text x="1165.5" y="12.5" class="ip">-</text><text x="1188.5" y="12.5" class="ip">+</text><text x="1343" y="12.5" class="rl">XBB(22)</text><rect x="1354" width="67" height="16.8" class="b1"/><text x="1387.5" y="12.5" class="cv">7.0×10<tspan class="s" dy="-5">4</tspan></text><rect x="1421" width="69" height="16.8" class="b3"/><text x="1455.5" y="12.5" class="cv">2.7×10<tspan class="s" dy="-5">5</tspan></text><text x="1501.5" y="12.5" class="ip">-</text><text x="1523.5" y="12.5" class="ip">+</text></g>
<g transform="translate(0,244.6)"><text x="1009" y="12.5" class="rl">BA.5.2(24)</text><rect x="1017" width="69" height="16.8" class="a1"/><text x="1051.5" y="12.5" class="cv">1.2×10<tspan class="s" dy="-5">5</tspan></text><rect x="1086" width="68" height="16.8" class="a2"/><text x="1120" y="12.5" class="cv">1.6×10<tspan class="s" dy="-5">5</tspan></text><text x="1165.5" y="12.5" class="ip">-</text><text x="1188.5" y="12.5" class="ip">-</text><text x="1343" y="12.5" class="rl">XBB(22)</text><rect x="1354" width="67" height="16.8" class="b1"/><text x="1387.5" y="12.5" class="cv">9.5×10<tspan class="s" dy="-5">4</tspan></text><rect x="1421" width="69" height="16.8" class="b3"/><text x="1455.5" y="12.5" class="cv">3.5×10<tspan class="s" dy="-5">5</tspan></text><text x="1501.5" y="12.5" class="ip">-</text><text x="1523.5" y="12.5" class="ip">+</text></g>
<g transform="translate(0,260.9)"><text x="1009" y="12.5" class="rl">BA.5.2(24)</text><rect x="1017" width="69" height="16.8" class="a1"/><text x="1051.5" y="12.5" class="cv">1.3×10<tspan class="s" dy="-5">5</tspan></text><rect x="1086" width="68" height="16.8" class="a10"/><text x="1120" y="12.5" class="cv w">1.0×10<tspan class="s" dy="-5">6</tspan></text><text x="1165.5" y="12.5" class="ip">-</text><text x="1188.5" y="12.5" class="ip">+</text><text x="1343" y="12.5" class="rl">XBB(22)</text><rect x="1354" width="67" height="16.8" class="b1"/><text x="1387.5" y="12.5" class="cv">8.9×10<tspan class="s" dy="-5">4</tspan></text><rect x="1421" width="69" height="16.8" class="b3"/><text x="1455.5" y="12.5" class="cv">2.7×10<tspan class="s" dy="-5">5</tspan></text><text x="1501.5" y="12.5" class="ip">-</text><text x="1523.5" y="12.5" class="ip">+</text></g>
<g transform="translate(0,277.2)"><text x="1009" y="12.5" class="rl">BA.5.2(26)</text><rect x="1017" width="69" height="16.8" class="a1"/><text x="1051.5" y="12.5" class="cv">1.4×10<tspan class="s" dy="-5">5</tspan></text><rect x="1086" width="68" height="16.8" class="a10"/><text x="1120" y="12.5" class="cv w">1.0×10<tspan class="s" dy="-5">6</tspan></text><text x="1165.5" y="12.5" class="ip">-</text><text x="1188.5" y="12.5" class="ip">+</text><text x="1343" y="12.5" class="rl">XBB(22)</text><rect x="1354" width="67" height="16.8" class="b1"/><text x="1387.5" y="12.5" class="cv">1.2×10<tspan class="s" dy="-5">5</tspan></text><rect x="1421" width="69" height="16.8" class="b6"/><text x="1455.5" y="12.5" class="cv">6.0×10<tspan class="s" dy="-5">5</tspan></text><text x="1501.5" y="12.5" class="ip">-</text><text x="1523.5" y="12.5" class="ip">+</text></g>
<g transform="translate(0,293.5)"><text x="1009" y="12.5" class="rl">BA.5.2(26)</text><rect x="1017" width="69" height="16.8" class="a1"/><text x="1051.5" y="12.5" class="cv">1.3×10<tspan class="s" dy="-5">5</tspan></text><rect x="1086" width="68" height="16.8" class="a4"/><text x="1120" y="12.5" class="cv">3.7×10<tspan class="s" dy="-5">5</tspan></text><text x="1165.5" y="12.5" class="ip">-</text><text x="1188.5" y="12.5" class="ip">+</text><text x="1343" y="12.5" class="rl">XBB(22)</text><rect x="1354" width="67" height="16.8" class="b1"/><text x="1387.5" y="12.5" class="cv">8.1×10<tspan class="s" dy="-5">4</tspan></text><rect x="1421" width="69" height="16.8" class="b1"/><text x="1455.5" y="12.5" class="cv">1.5×10<tspan class="s" dy="-5">5</tspan></text><text x="1501.5" y="12.5" class="ip">-</text><text x="1523.5" y="12.5" class="ip">-</text></g>
<g transform="translate(0,309.8)"><text x="1009" y="12.5" class="rl">BA.5.2(26)</text><rect x="1017" width="69" height="16.8" class="a1"/><text x="1051.5" y="12.5" class="cv">1.2×10<tspan class="s" dy="-5">5</tspan></text><rect x="1086" width="68" height="16.8" class="a9"/><text x="1120" y="12.5" class="cv w">8.7×10<tspan class="s" dy="-5">5</tspan></text><text x="1165.5" y="12.5" class="ip">-</text><text x="1188.5" y="12.5" class="ip">+</text><text x="1343" y="12.5" class="rl">XBB(24)</text><rect x="1354" width="67" height="16.8" class="b1"/><text x="1387.5" y="12.5" class="cv">6.5×10<tspan class="s" dy="-5">4</tspan></text><rect x="1421" width="69" height="16.8" class="b1"/><text x="1455.5" y="12.5" class="cv">1.5×10<tspan class="s" dy="-5">5</tspan></text><text x="1501.5" y="12.5" class="ip">-</text><text x="1523.5" y="12.5" class="ip">-</text></g>
<g transform="translate(0,326.1)"><text x="1009" y="12.5" class="rl">BA.5.2(26)</text><rect x="1017" width="69" height="16.8" class="a1"/><text x="1051.5" y="12.5" class="cv">1.2×10<tspan class="s" dy="-5">5</tspan></text><rect x="1086" width="68" height="16.8" class="a6"/><text x="1120" y="12.5" class="cv">6.4×10<tspan class="s" dy="-5">5</tspan></text><text x="1165.5" y="12.5" class="ip">-</text><text x="1188.5" y="12.5" class="ip">+</text><text x="1343" y="12.5" class="rl">XBB(24)</text><rect x="1354" width="67" height="16.8" class="b1"/><text x="1387.5" y="12.5" class="cv">8.3×10<tspan class="s" dy="-5">4</tspan></text><rect x="1421" width="69" height="16.8" class="b2"/><text x="1455.5" y="12.5" class="cv">2.5×10<tspan class="s" dy="-5">5</tspan></text><text x="1501.5" y="12.5" class="ip">-</text><text x="1523.5" y="12.5" class="ip">+</text></g>
<g transform="translate(0,342.4)"><text x="1009" y="12.5" class="rl">BA.5.2(28)</text><rect x="1017" width="69" height="16.8" class="a1"/><text x="1051.5" y="12.5" class="cv">1.3×10<tspan class="s" dy="-5">5</tspan></text><rect x="1086" width="68" height="16.8" class="a8"/><text x="1120" y="12.5" class="cv w">7.7×10<tspan class="s" dy="-5">5</tspan></text><text x="1165.5" y="12.5" class="ip">-</text><text x="1188.5" y="12.5" class="ip">+</text><text x="1343" y="12.5" class="rl">XBB(24)</text><rect x="1354" width="67" height="16.8" class="b1"/><text x="1387.5" y="12.5" class="cv">8.1×10<tspan class="s" dy="-5">4</tspan></text><rect x="1421" width="69" height="16.8" class="b2"/><text x="1455.5" y="12.5" class="cv">1.9×10<tspan class="s" dy="-5">5</tspan></text><text x="1501.5" y="12.5" class="ip">-</text><text x="1523.5" y="12.5" class="ip">-</text></g>
<g transform="translate(0,358.7)"><text x="1009" y="12.5" class="rl">BA.5.2(28)</text><rect x="1017" width="69" height="16.8" class="a1"/><text x="1051.5" y="12.5" class="cv">1.3×10<tspan class="s" dy="-5">5</tspan></text><rect x="1086" width="68" height="16.8" class="a10"/><text x="1120" y="12.5" class="cv w">9.7×10<tspan class="s" dy="-5">5</tspan></text><text x="1165.5" y="12.5" class="ip">-</text><text x="1188.5" y="12.5" class="ip">+</text><text x="1343" y="12.5" class="rl">XBB(24)</text><rect x="1354" width="67" height="16.8" class="b1"/><text x="1387.5" y="12.5" class="cv">7.7×10<tspan class="s" dy="-5">4</tspan></text><rect x="1421" width="69" height="16.8" class="b2"/><text x="1455.5" y="12.5" class="cv">1.9×10<tspan class="s" dy="-5">5</tspan></text><text x="1501.5" y="12.5" class="ip">-</text><text x="1523.5" y="12.5" class="ip">-</text></g>
<g transform="translate(0,375)"><text x="1009" y="12.5" class="rl">BA.5.2(28)</text><rect x="1017" width="69" height="16.8" class="a1"/><text x="1051.5" y="12.5" class="cv">1.2×10<tspan class="s" dy="-5">5</tspan></text><rect x="1086" width="68" height="16.8" class="a4"/><text x="1120" y="12.5" class="cv">4.5×10<tspan class="s" dy="-5">5</tspan></text><text x="1165.5" y="12.5" class="ip">-</text><text x="1188.5" y="12.5" class="ip">+</text><text x="1343" y="12.5" class="rl">XBB(24)</text><rect x="1354" width="67" height="16.8" class="b1"/><text x="1387.5" y="12.5" class="cv">6.5×10<tspan class="s" dy="-5">4</tspan></text><rect x="1421" width="69" height="16.8" class="b1"/><text x="1455.5" y="12.5" class="cv">1.5×10<tspan class="s" dy="-5">5</tspan></text><text x="1501.5" y="12.5" class="ip">-</text><text x="1523.5" y="12.5" class="ip">-</text></g>
<g transform="translate(0,391.3)"><text x="1009" y="12.5" class="rl">BA.5.2(28)</text><rect x="1017" width="69" height="16.8" class="a1"/><text x="1051.5" y="12.5" class="cv">1.5×10<tspan class="s" dy="-5">5</tspan></text><rect x="1086" width="68" height="16.8" class="a8"/><text x="1120" y="12.5" class="cv w">8.4×10<tspan class="s" dy="-5">5</tspan></text><text x="1165.5" y="12.5" class="ip">-</text><text x="1188.5" y="12.5" class="ip">+</text><text x="1343" y="12.5" class="rl">XBB(26)</text><rect x="1354" width="67" height="16.8" class="b1"/><text x="1387.5" y="12.5" class="cv">9.1×10<tspan class="s" dy="-5">4</tspan></text><rect x="1421" width="69" height="16.8" class="b1"/><text x="1455.5" y="12.5" class="cv">1.1×10<tspan class="s" dy="-5">5</tspan></text><text x="1501.5" y="12.5" class="ip">-</text><text x="1523.5" y="12.5" class="ip">-</text></g>
<g transform="translate(0,407.6)"><text x="1009" y="12.5" class="rl">BA.5.2(28)</text><rect x="1017" width="69" height="16.8" class="a1"/><text x="1051.5" y="12.5" class="cv">1.1×10<tspan class="s" dy="-5">5</tspan></text><rect x="1086" width="68" height="16.8" class="a6"/><text x="1120" y="12.5" class="cv">6.0×10<tspan class="s" dy="-5">5</tspan></text><text x="1165.5" y="12.5" class="ip">-</text><text x="1188.5" y="12.5" class="ip">+</text><text x="1343" y="12.5" class="rl">XBB(26)</text><rect x="1354" width="67" height="16.8" class="b1"/><text x="1387.5" y="12.5" class="cv">9.9×10<tspan class="s" dy="-5">4</tspan></text><rect x="1421" width="69" height="16.8" class="b1"/><text x="1455.5" y="12.5" class="cv">1.3×10<tspan class="s" dy="-5">5</tspan></text><text x="1501.5" y="12.5" class="ip">-</text><text x="1523.5" y="12.5" class="ip">-</text></g>
<g transform="translate(0,423.9)"><text x="1009" y="12.5" class="rl">BA.5.2(30)</text><rect x="1017" width="69" height="16.8" class="a1"/><text x="1051.5" y="12.5" class="cv">1.0×10<tspan class="s" dy="-5">5</tspan></text><rect x="1086" width="68" height="16.8" class="a2"/><text x="1120" y="12.5" class="cv">1.6×10<tspan class="s" dy="-5">5</tspan></text><text x="1165.5" y="12.5" class="ip">-</text><text x="1188.5" y="12.5" class="ip">-</text><text x="1343" y="12.5" class="rl">XBB(26)</text><rect x="1354" width="67" height="16.8" class="b1"/><text x="1387.5" y="12.5" class="cv">8.1×10<tspan class="s" dy="-5">4</tspan></text><rect x="1421" width="69" height="16.8" class="b1"/><text x="1455.5" y="12.5" class="cv">1.1×10<tspan class="s" dy="-5">5</tspan></text><text x="1501.5" y="12.5" class="ip">-</text><text x="1523.5" y="12.5" class="ip">-</text></g>
<g transform="translate(0,440.2)"><text x="1009" y="12.5" class="rl">BA.5.2(30)</text><rect x="1017" width="69" height="16.8" class="a1"/><text x="1051.5" y="12.5" class="cv">1.3×10<tspan class="s" dy="-5">5</tspan></text><rect x="1086" width="68" height="16.8" class="a5"/><text x="1120" y="12.5" class="cv">4.9×10<tspan class="s" dy="-5">5</tspan></text><text x="1165.5" y="12.5" class="ip">-</text><text x="1188.5" y="12.5" class="ip">+</text><text x="1343" y="12.5" class="rl">XBB(26)</text><rect x="1354" width="67" height="16.8" class="b1"/><text x="1387.5" y="12.5" class="cv">9.2×10<tspan class="s" dy="-5">4</tspan></text><rect x="1421" width="69" height="16.8" class="b1"/><text x="1455.5" y="12.5" class="cv">9.6×10<tspan class="s" dy="-5">4</tspan></text><text x="1501.5" y="12.5" class="ip">-</text><text x="1523.5" y="12.5" class="ip">-</text></g>
<g transform="translate(0,456.5)"><text x="1009" y="12.5" class="rl">BA.5.2(32)</text><rect x="1017" width="69" height="16.8" class="a1"/><text x="1051.5" y="12.5" class="cv">1.2×10<tspan class="s" dy="-5">5</tspan></text><rect x="1086" width="68" height="16.8" class="a2"/><text x="1120" y="12.5" class="cv">2.3×10<tspan class="s" dy="-5">5</tspan></text><text x="1165.5" y="12.5" class="ip">-</text><text x="1188.5" y="12.5" class="ip">+</text><text x="1343" y="12.5" class="rl">XBB(28)</text><rect x="1354" width="67" height="16.8" class="b1"/><text x="1387.5" y="12.5" class="cv">7.8×10<tspan class="s" dy="-5">4</tspan></text><rect x="1421" width="69" height="16.8" class="b1"/><text x="1455.5" y="12.5" class="cv">9.5×10<tspan class="s" dy="-5">4</tspan></text><text x="1501.5" y="12.5" class="ip">-</text><text x="1523.5" y="12.5" class="ip">-</text></g>
<g transform="translate(0,472.8)"><text x="1009" y="12.5" class="rl">BA.5.2(32)</text><rect x="1017" width="69" height="16.8" class="a1"/><text x="1051.5" y="12.5" class="cv">1.2×10<tspan class="s" dy="-5">5</tspan></text><rect x="1086" width="68" height="16.8" class="a5"/><text x="1120" y="12.5" class="cv">4.9×10<tspan class="s" dy="-5">5</tspan></text><text x="1165.5" y="12.5" class="ip">-</text><text x="1188.5" y="12.5" class="ip">+</text><text x="1343" y="12.5" class="rl">XBB(28)</text><rect x="1354" width="67" height="16.8" class="b1"/><text x="1387.5" y="12.5" class="cv">9.0×10<tspan class="s" dy="-5">4</tspan></text><rect x="1421" width="69" height="16.8" class="b1"/><text x="1455.5" y="12.5" class="cv">8.0×10<tspan class="s" dy="-5">4</tspan></text><text x="1501.5" y="12.5" class="ip">-</text><text x="1523.5" y="12.5" class="ip">-</text></g>
<g transform="translate(0,489.1)"><text x="1009" y="12.5" class="rl">BA.5.2(32)</text><rect x="1017" width="69" height="16.8" class="a1"/><text x="1051.5" y="12.5" class="cv">1.3×10<tspan class="s" dy="-5">5</tspan></text><rect x="1086" width="68" height="16.8" class="a2"/><text x="1120" y="12.5" class="cv">2.1×10<tspan class="s" dy="-5">5</tspan></text><text x="1165.5" y="12.5" class="ip">-</text><text x="1188.5" y="12.5" class="ip">+</text><text x="1343" y="12.5" class="rl">XBB(28)</text><rect x="1354" width="67" height="16.8" class="b1"/><text x="1387.5" y="12.5" class="cv">6.4×10<tspan class="s" dy="-5">4</tspan></text><rect x="1421" width="69" height="16.8" class="b1"/><text x="1455.5" y="12.5" class="cv">8.1×10<tspan class="s" dy="-5">4</tspan></text><text x="1501.5" y="12.5" class="ip">-</text><text x="1523.5" y="12.5" class="ip">-</text></g>
<g transform="translate(0,505.4)"><text x="1009" y="12.5" class="rl">BA.5.2(32)</text><rect x="1017" width="69" height="16.8" class="a1"/><text x="1051.5" y="12.5" class="cv">1.4×10<tspan class="s" dy="-5">5</tspan></text><rect x="1086" width="68" height="16.8" class="a4"/><text x="1120" y="12.5" class="cv">3.8×10<tspan class="s" dy="-5">5</tspan></text><text x="1165.5" y="12.5" class="ip">-</text><text x="1188.5" y="12.5" class="ip">+</text><text x="1343" y="12.5" class="rl">XBB(30)</text><rect x="1354" width="67" height="16.8" class="b1"/><text x="1387.5" y="12.5" class="cv">9.4×10<tspan class="s" dy="-5">4</tspan></text><rect x="1421" width="69" height="16.8" class="b1"/><text x="1455.5" y="12.5" class="cv">7.4×10<tspan class="s" dy="-5">4</tspan></text><text x="1501.5" y="12.5" class="ip">-</text><text x="1523.5" y="12.5" class="ip">-</text></g>
<g transform="translate(0,521.7)"><text x="1009" y="12.5" class="rl">BA.5.2(34)</text><rect x="1017" width="69" height="16.8" class="a1"/><text x="1051.5" y="12.5" class="cv">1.4×10<tspan class="s" dy="-5">5</tspan></text><rect x="1086" width="68" height="16.8" class="a1"/><text x="1120" y="12.5" class="cv">1.3×10<tspan class="s" dy="-5">5</tspan></text><text x="1165.5" y="12.5" class="ip">-</text><text x="1188.5" y="12.5" class="ip">-</text><text x="1343" y="12.5" class="rl">XBB(32)</text><rect x="1354" width="67" height="16.8" class="b1"/><text x="1387.5" y="12.5" class="cv">1.0×10<tspan class="s" dy="-5">5</tspan></text><rect x="1421" width="69" height="16.8" class="b1"/><text x="1455.5" y="12.5" class="cv">9.2×10<tspan class="s" dy="-5">4</tspan></text><text x="1501.5" y="12.5" class="ip">-</text><text x="1523.5" y="12.5" class="ip">-</text></g>
<g transform="translate(0,538)"><text x="1009" y="12.5" class="rl">XBB(18)</text><rect x="1017" width="69" height="16.8" class="a4"/><text x="1051.5" y="12.5" class="cv">4.1×10<tspan class="s" dy="-5">5</tspan></text><rect x="1086" width="68" height="16.8" class="a12"/><text x="1120" y="12.5" class="cv w">1.2×10<tspan class="s" dy="-5">6</tspan></text><text x="1165.5" y="12.5" class="ip">+</text><text x="1188.5" y="12.5" class="ip">+</text><text x="1343" y="12.5" class="rl">BA.5.2(16)</text><rect x="1354" width="67" height="16.8" class="b6"/><text x="1387.5" y="12.5" class="cv">6.5×10<tspan class="s" dy="-5">5</tspan></text><rect x="1421" width="69" height="16.8" class="b9"/><text x="1455.5" y="12.5" class="cv w">8.9×10<tspan class="s" dy="-5">5</tspan></text><text x="1501.5" y="12.5" class="ip">+</text><text x="1523.5" y="12.5" class="ip">+</text></g>
<g transform="translate(0,554.3)"><text x="1009" y="12.5" class="rl">XBB(18)</text><rect x="1017" width="69" height="16.8" class="a7"/><text x="1051.5" y="12.5" class="cv">7.1×10<tspan class="s" dy="-5">5</tspan></text><rect x="1086" width="68" height="16.8" class="a10"/><text x="1120" y="12.5" class="cv w">1.0×10<tspan class="s" dy="-5">6</tspan></text><text x="1165.5" y="12.5" class="ip">+</text><text x="1188.5" y="12.5" class="ip">+</text><text x="1343" y="12.5" class="rl">BA.5.2(16)</text><rect x="1354" width="67" height="16.8" class="b9"/><text x="1387.5" y="12.5" class="cv w">9.4×10<tspan class="s" dy="-5">5</tspan></text><rect x="1421" width="69" height="16.8" class="b8"/><text x="1455.5" y="12.5" class="cv w">8.0×10<tspan class="s" dy="-5">5</tspan></text><text x="1501.5" y="12.5" class="ip">+</text><text x="1523.5" y="12.5" class="ip">+</text></g>
<g transform="translate(0,570.6)"><text x="1009" y="12.5" class="rl">XBB(18)</text><rect x="1017" width="69" height="16.8" class="a4"/><text x="1051.5" y="12.5" class="cv">3.5×10<tspan class="s" dy="-5">5</tspan></text><rect x="1086" width="68" height="16.8" class="a11"/><text x="1120" y="12.5" class="cv w">1.1×10<tspan class="s" dy="-5">6</tspan></text><text x="1165.5" y="12.5" class="ip">+</text><text x="1188.5" y="12.5" class="ip">+</text><text x="1343" y="12.5" class="rl">BA.5.2(16)</text><rect x="1354" width="67" height="16.8" class="b9"/><text x="1387.5" y="12.5" class="cv w">8.8×10<tspan class="s" dy="-5">5</tspan></text><rect x="1421" width="69" height="16.8" class="b9"/><text x="1455.5" y="12.5" class="cv w">9.4×10<tspan class="s" dy="-5">5</tspan></text><text x="1501.5" y="12.5" class="ip">+</text><text x="1523.5" y="12.5" class="ip">+</text></g>
<g transform="translate(0,586.9)"><text x="1009" y="12.5" class="rl">XBB(18)</text><rect x="1017" width="69" height="16.8" class="a5"/><text x="1051.5" y="12.5" class="cv">4.8×10<tspan class="s" dy="-5">5</tspan></text><rect x="1086" width="68" height="16.8" class="a10"/><text x="1120" y="12.5" class="cv w">9.8×10<tspan class="s" dy="-5">5</tspan></text><text x="1165.5" y="12.5" class="ip">+</text><text x="1188.5" y="12.5" class="ip">+</text><text x="1343" y="12.5" class="rl">BA.5.2(18)</text><rect x="1354" width="67" height="16.8" class="b6"/><text x="1387.5" y="12.5" class="cv">5.9×10<tspan class="s" dy="-5">5</tspan></text><rect x="1421" width="69" height="16.8" class="b8"/><text x="1455.5" y="12.5" class="cv w">7.8×10<tspan class="s" dy="-5">5</tspan></text><text x="1501.5" y="12.5" class="ip">+</text><text x="1523.5" y="12.5" class="ip">+</text></g>
<g transform="translate(0,603.2)"><text x="1009" y="12.5" class="rl">XBB(20)</text><rect x="1017" width="69" height="16.8" class="a6"/><text x="1051.5" y="12.5" class="cv">5.8×10<tspan class="s" dy="-5">5</tspan></text><rect x="1086" width="68" height="16.8" class="a9"/><text x="1120" y="12.5" class="cv w">9.1×10<tspan class="s" dy="-5">5</tspan></text><text x="1165.5" y="12.5" class="ip">+</text><text x="1188.5" y="12.5" class="ip">+</text><text x="1343" y="12.5" class="rl">BA.5.2(18)</text><rect x="1354" width="67" height="16.8" class="b5"/><text x="1387.5" y="12.5" class="cv">4.6×10<tspan class="s" dy="-5">5</tspan></text><rect x="1421" width="69" height="16.8" class="b7"/><text x="1455.5" y="12.5" class="cv">6.6×10<tspan class="s" dy="-5">5</tspan></text><text x="1501.5" y="12.5" class="ip">+</text><text x="1523.5" y="12.5" class="ip">+</text></g>
<g transform="translate(0,619.5)"><text x="1009" y="12.5" class="rl">XBB(20)</text><rect x="1017" width="69" height="16.8" class="a4"/><text x="1051.5" y="12.5" class="cv">4.4×10<tspan class="s" dy="-5">5</tspan></text><rect x="1086" width="68" height="16.8" class="a9"/><text x="1120" y="12.5" class="cv w">9.3×10<tspan class="s" dy="-5">5</tspan></text><text x="1165.5" y="12.5" class="ip">+</text><text x="1188.5" y="12.5" class="ip">+</text><text x="1343" y="12.5" class="rl">BA.5.2(20)</text><rect x="1354" width="67" height="16.8" class="b4"/><text x="1387.5" y="12.5" class="cv">3.9×10<tspan class="s" dy="-5">5</tspan></text><rect x="1421" width="69" height="16.8" class="b4"/><text x="1455.5" y="12.5" class="cv">4.4×10<tspan class="s" dy="-5">5</tspan></text><text x="1501.5" y="12.5" class="ip">+</text><text x="1523.5" y="12.5" class="ip">+</text></g>
<g transform="translate(0,635.8)"><text x="1009" y="12.5" class="rl">XBB(20)</text><rect x="1017" width="69" height="16.8" class="a7"/><text x="1051.5" y="12.5" class="cv">6.6×10<tspan class="s" dy="-5">5</tspan></text><rect x="1086" width="68" height="16.8" class="a11"/><text x="1120" y="12.5" class="cv w">1.1×10<tspan class="s" dy="-5">6</tspan></text><text x="1165.5" y="12.5" class="ip">+</text><text x="1188.5" y="12.5" class="ip">+</text><text x="1343" y="12.5" class="rl">BA.5.2(20)</text><rect x="1354" width="67" height="16.8" class="b4"/><text x="1387.5" y="12.5" class="cv">3.9×10<tspan class="s" dy="-5">5</tspan></text><rect x="1421" width="69" height="16.8" class="b7"/><text x="1455.5" y="12.5" class="cv">6.8×10<tspan class="s" dy="-5">5</tspan></text><text x="1501.5" y="12.5" class="ip">+</text><text x="1523.5" y="12.5" class="ip">+</text></g>
<g transform="translate(0,652.1)"><text x="1009" y="12.5" class="rl">XBB(20)</text><rect x="1017" width="69" height="16.8" class="a4"/><text x="1051.5" y="12.5" class="cv">4.1×10<tspan class="s" dy="-5">5</tspan></text><rect x="1086" width="68" height="16.8" class="a9"/><text x="1120" y="12.5" class="cv w">9.2×10<tspan class="s" dy="-5">5</tspan></text><text x="1165.5" y="12.5" class="ip">+</text><text x="1188.5" y="12.5" class="ip">+</text><text x="1343" y="12.5" class="rl">BA.5.2(22)</text><rect x="1354" width="67" height="16.8" class="b7"/><text x="1387.5" y="12.5" class="cv">6.8×10<tspan class="s" dy="-5">5</tspan></text><rect x="1421" width="69" height="16.8" class="b8"/><text x="1455.5" y="12.5" class="cv w">7.7×10<tspan class="s" dy="-5">5</tspan></text><text x="1501.5" y="12.5" class="ip">+</text><text x="1523.5" y="12.5" class="ip">+</text></g>
<g transform="translate(0,668.4)"><text x="1009" y="12.5" class="rl">XBB(20)</text><rect x="1017" width="69" height="16.8" class="a4"/><text x="1051.5" y="12.5" class="cv">3.7×10<tspan class="s" dy="-5">5</tspan></text><rect x="1086" width="68" height="16.8" class="a5"/><text x="1120" y="12.5" class="cv">5.5×10<tspan class="s" dy="-5">5</tspan></text><text x="1165.5" y="12.5" class="ip">+</text><text x="1188.5" y="12.5" class="ip">+</text><text x="1343" y="12.5" class="rl">BA.5.2(22)</text><rect x="1354" width="67" height="16.8" class="b7"/><text x="1387.5" y="12.5" class="cv">6.7×10<tspan class="s" dy="-5">5</tspan></text><rect x="1421" width="69" height="16.8" class="b8"/><text x="1455.5" y="12.5" class="cv w">8.3×10<tspan class="s" dy="-5">5</tspan></text><text x="1501.5" y="12.5" class="ip">+</text><text x="1523.5" y="12.5" class="ip">+</text></g>
<g transform="translate(0,684.7)"><text x="1009" y="12.5" class="rl">XBB(20)</text><rect x="1017" width="69" height="16.8" class="a6"/><text x="1051.5" y="12.5" class="cv">6.0×10<tspan class="s" dy="-5">5</tspan></text><rect x="1086" width="68" height="16.8" class="a12"/><text x="1120" y="12.5" class="cv w">1.2×10<tspan class="s" dy="-5">6</tspan></text><text x="1165.5" y="12.5" class="ip">+</text><text x="1188.5" y="12.5" class="ip">+</text><text x="1343" y="12.5" class="rl">BA.5.2(24)</text><rect x="1354" width="67" height="16.8" class="b5"/><text x="1387.5" y="12.5" class="cv">5.5×10<tspan class="s" dy="-5">5</tspan></text><rect x="1421" width="69" height="16.8" class="b8"/><text x="1455.5" y="12.5" class="cv w">8.0×10<tspan class="s" dy="-5">5</tspan></text><text x="1501.5" y="12.5" class="ip">+</text><text x="1523.5" y="12.5" class="ip">+</text></g>
<g transform="translate(0,701)"><text x="1009" y="12.5" class="rl">XBB(22)</text><rect x="1017" width="69" height="16.8" class="a6"/><text x="1051.5" y="12.5" class="cv">5.8×10<tspan class="s" dy="-5">5</tspan></text><rect x="1086" width="68" height="16.8" class="a11"/><text x="1120" y="12.5" class="cv w">1.1×10<tspan class="s" dy="-5">6</tspan></text><text x="1165.5" y="12.5" class="ip">+</text><text x="1188.5" y="12.5" class="ip">+</text><text x="1343" y="12.5" class="rl">BA.5.2(24)</text><rect x="1354" width="67" height="16.8" class="b4"/><text x="1387.5" y="12.5" class="cv">4.3×10<tspan class="s" dy="-5">5</tspan></text><rect x="1421" width="69" height="16.8" class="b10"/><text x="1455.5" y="12.5" class="cv w">9.5×10<tspan class="s" dy="-5">5</tspan></text><text x="1501.5" y="12.5" class="ip">+</text><text x="1523.5" y="12.5" class="ip">+</text></g>
<g transform="translate(0,717.3)"><text x="1009" y="12.5" class="rl">XBB(22)</text><rect x="1017" width="69" height="16.8" class="a6"/><text x="1051.5" y="12.5" class="cv">5.9×10<tspan class="s" dy="-5">5</tspan></text><rect x="1086" width="68" height="16.8" class="a10"/><text x="1120" y="12.5" class="cv w">1.0×10<tspan class="s" dy="-5">6</tspan></text><text x="1165.5" y="12.5" class="ip">+</text><text x="1188.5" y="12.5" class="ip">+</text><text x="1343" y="12.5" class="rl">BA.5.2(24)</text><rect x="1354" width="67" height="16.8" class="b9"/><text x="1387.5" y="12.5" class="cv w">9.3×10<tspan class="s" dy="-5">5</tspan></text><rect x="1421" width="69" height="16.8" class="b9"/><text x="1455.5" y="12.5" class="cv w">8.8×10<tspan class="s" dy="-5">5</tspan></text><text x="1501.5" y="12.5" class="ip">+</text><text x="1523.5" y="12.5" class="ip">+</text></g>
<g transform="translate(0,733.6)"><text x="1009" y="12.5" class="rl">XBB(22)</text><rect x="1017" width="69" height="16.8" class="a4"/><text x="1051.5" y="12.5" class="cv">4.3×10<tspan class="s" dy="-5">5</tspan></text><rect x="1086" width="68" height="16.8" class="a10"/><text x="1120" y="12.5" class="cv w">9.5×10<tspan class="s" dy="-5">5</tspan></text><text x="1165.5" y="12.5" class="ip">+</text><text x="1188.5" y="12.5" class="ip">+</text><text x="1343" y="12.5" class="rl">BA.5.2(24)</text><rect x="1354" width="67" height="16.8" class="b3"/><text x="1387.5" y="12.5" class="cv">2.9×10<tspan class="s" dy="-5">5</tspan></text><rect x="1421" width="69" height="16.8" class="b5"/><text x="1455.5" y="12.5" class="cv">4.9×10<tspan class="s" dy="-5">5</tspan></text><text x="1501.5" y="12.5" class="ip">+</text><text x="1523.5" y="12.5" class="ip">+</text></g>
<g transform="translate(0,749.9)"><text x="1009" y="12.5" class="rl">XBB(22)</text><rect x="1017" width="69" height="16.8" class="a6"/><text x="1051.5" y="12.5" class="cv">6.0×10<tspan class="s" dy="-5">5</tspan></text><rect x="1086" width="68" height="16.8" class="a11"/><text x="1120" y="12.5" class="cv w">1.1×10<tspan class="s" dy="-5">6</tspan></text><text x="1165.5" y="12.5" class="ip">+</text><text x="1188.5" y="12.5" class="ip">+</text><text x="1343" y="12.5" class="rl">BA.5.2(24)</text><rect x="1354" width="67" height="16.8" class="b4"/><text x="1387.5" y="12.5" class="cv">3.9×10<tspan class="s" dy="-5">5</tspan></text><rect x="1421" width="69" height="16.8" class="b5"/><text x="1455.5" y="12.5" class="cv">5.1×10<tspan class="s" dy="-5">5</tspan></text><text x="1501.5" y="12.5" class="ip">+</text><text x="1523.5" y="12.5" class="ip">+</text></g>
<g transform="translate(0,766.2)"><text x="1009" y="12.5" class="rl">XBB(22)</text><rect x="1017" width="69" height="16.8" class="a6"/><text x="1051.5" y="12.5" class="cv">5.6×10<tspan class="s" dy="-5">5</tspan></text><rect x="1086" width="68" height="16.8" class="a9"/><text x="1120" y="12.5" class="cv w">9.4×10<tspan class="s" dy="-5">5</tspan></text><text x="1165.5" y="12.5" class="ip">+</text><text x="1188.5" y="12.5" class="ip">+</text><text x="1343" y="12.5" class="rl">BA.5.2(26)</text><rect x="1354" width="67" height="16.8" class="b5"/><text x="1387.5" y="12.5" class="cv">4.9×10<tspan class="s" dy="-5">5</tspan></text><rect x="1421" width="69" height="16.8" class="b4"/><text x="1455.5" y="12.5" class="cv">4.4×10<tspan class="s" dy="-5">5</tspan></text><text x="1501.5" y="12.5" class="ip">+</text><text x="1523.5" y="12.5" class="ip">+</text></g>
<g transform="translate(0,782.5)"><text x="1009" y="12.5" class="rl">XBB(22)</text><rect x="1017" width="69" height="16.8" class="a4"/><text x="1051.5" y="12.5" class="cv">3.5×10<tspan class="s" dy="-5">5</tspan></text><rect x="1086" width="68" height="16.8" class="a12"/><text x="1120" y="12.5" class="cv w">1.2×10<tspan class="s" dy="-5">6</tspan></text><text x="1165.5" y="12.5" class="ip">+</text><text x="1188.5" y="12.5" class="ip">+</text><text x="1343" y="12.5" class="rl">BA.5.2(26)</text><rect x="1354" width="67" height="16.8" class="b5"/><text x="1387.5" y="12.5" class="cv">4.5×10<tspan class="s" dy="-5">5</tspan></text><rect x="1421" width="69" height="16.8" class="b7"/><text x="1455.5" y="12.5" class="cv">6.9×10<tspan class="s" dy="-5">5</tspan></text><text x="1501.5" y="12.5" class="ip">+</text><text x="1523.5" y="12.5" class="ip">+</text></g>
<g transform="translate(0,798.8)"><text x="1009" y="12.5" class="rl">XBB(24)</text><rect x="1017" width="69" height="16.8" class="a3"/><text x="1051.5" y="12.5" class="cv">3.1×10<tspan class="s" dy="-5">5</tspan></text><rect x="1086" width="68" height="16.8" class="a9"/><text x="1120" y="12.5" class="cv w">8.6×10<tspan class="s" dy="-5">5</tspan></text><text x="1165.5" y="12.5" class="ip">+</text><text x="1188.5" y="12.5" class="ip">+</text><text x="1343" y="12.5" class="rl">BA.5.2(26)</text><rect x="1354" width="67" height="16.8" class="b3"/><text x="1387.5" y="12.5" class="cv">2.8×10<tspan class="s" dy="-5">5</tspan></text><rect x="1421" width="69" height="16.8" class="b5"/><text x="1455.5" y="12.5" class="cv">5.0×10<tspan class="s" dy="-5">5</tspan></text><text x="1501.5" y="12.5" class="ip">+</text><text x="1523.5" y="12.5" class="ip">+</text></g>
<g transform="translate(0,815.1)"><text x="1009" y="12.5" class="rl">XBB(24)</text><rect x="1017" width="69" height="16.8" class="a5"/><text x="1051.5" y="12.5" class="cv">5.5×10<tspan class="s" dy="-5">5</tspan></text><rect x="1086" width="68" height="16.8" class="a9"/><text x="1120" y="12.5" class="cv w">9.1×10<tspan class="s" dy="-5">5</tspan></text><text x="1165.5" y="12.5" class="ip">+</text><text x="1188.5" y="12.5" class="ip">+</text><text x="1343" y="12.5" class="rl">BA.5.2(26)</text><rect x="1354" width="67" height="16.8" class="b2"/><text x="1387.5" y="12.5" class="cv">2.0×10<tspan class="s" dy="-5">5</tspan></text><rect x="1421" width="69" height="16.8" class="b4"/><text x="1455.5" y="12.5" class="cv">4.0×10<tspan class="s" dy="-5">5</tspan></text><text x="1501.5" y="12.5" class="ip">+</text><text x="1523.5" y="12.5" class="ip">+</text></g>
<g transform="translate(0,831.4)"><text x="1009" y="12.5" class="rl">XBB(24)</text><rect x="1017" width="69" height="16.8" class="a3"/><text x="1051.5" y="12.5" class="cv">2.9×10<tspan class="s" dy="-5">5</tspan></text><rect x="1086" width="68" height="16.8" class="a5"/><text x="1120" y="12.5" class="cv">5.2×10<tspan class="s" dy="-5">5</tspan></text><text x="1165.5" y="12.5" class="ip">+</text><text x="1188.5" y="12.5" class="ip">+</text><text x="1343" y="12.5" class="rl">BA.5.2(28)</text><rect x="1354" width="67" height="16.8" class="b3"/><text x="1387.5" y="12.5" class="cv">2.5×10<tspan class="s" dy="-5">5</tspan></text><rect x="1421" width="69" height="16.8" class="b4"/><text x="1455.5" y="12.5" class="cv">3.5×10<tspan class="s" dy="-5">5</tspan></text><text x="1501.5" y="12.5" class="ip">+</text><text x="1523.5" y="12.5" class="ip">+</text></g>
<g transform="translate(0,847.7)"><text x="1009" y="12.5" class="rl">XBB(24)</text><rect x="1017" width="69" height="16.8" class="a4"/><text x="1051.5" y="12.5" class="cv">3.6×10<tspan class="s" dy="-5">5</tspan></text><rect x="1086" width="68" height="16.8" class="a6"/><text x="1120" y="12.5" class="cv">6.0×10<tspan class="s" dy="-5">5</tspan></text><text x="1165.5" y="12.5" class="ip">+</text><text x="1188.5" y="12.5" class="ip">+</text><text x="1343" y="12.5" class="rl">BA.5.2(28)</text><rect x="1354" width="67" height="16.8" class="b4"/><text x="1387.5" y="12.5" class="cv">3.6×10<tspan class="s" dy="-5">5</tspan></text><rect x="1421" width="69" height="16.8" class="b7"/><text x="1455.5" y="12.5" class="cv">6.9×10<tspan class="s" dy="-5">5</tspan></text><text x="1501.5" y="12.5" class="ip">+</text><text x="1523.5" y="12.5" class="ip">+</text></g>
<g transform="translate(0,864)"><text x="1009" y="12.5" class="rl">XBB(24)</text><rect x="1017" width="69" height="16.8" class="a3"/><text x="1051.5" y="12.5" class="cv">2.8×10<tspan class="s" dy="-5">5</tspan></text><rect x="1086" width="68" height="16.8" class="a9"/><text x="1120" y="12.5" class="cv w">8.7×10<tspan class="s" dy="-5">5</tspan></text><text x="1165.5" y="12.5" class="ip">+</text><text x="1188.5" y="12.5" class="ip">+</text><text x="1343" y="12.5" class="rl">BA.5.2(28)</text><rect x="1354" width="67" height="16.8" class="b2"/><text x="1387.5" y="12.5" class="cv">1.7×10<tspan class="s" dy="-5">5</tspan></text><rect x="1421" width="69" height="16.8" class="b3"/><text x="1455.5" y="12.5" class="cv">3.0×10<tspan class="s" dy="-5">5</tspan></text><text x="1501.5" y="12.5" class="ip">+</text><text x="1523.5" y="12.5" class="ip">-</text></g>
<g transform="translate(0,880.3)"><text x="1009" y="12.5" class="rl">XBB(26)</text><rect x="1017" width="69" height="16.8" class="a3"/><text x="1051.5" y="12.5" class="cv">3.2×10<tspan class="s" dy="-5">5</tspan></text><rect x="1086" width="68" height="16.8" class="a8"/><text x="1120" y="12.5" class="cv w">7.9×10<tspan class="s" dy="-5">5</tspan></text><text x="1165.5" y="12.5" class="ip">+</text><text x="1188.5" y="12.5" class="ip">+</text><text x="1343" y="12.5" class="rl">BA.5.2(28)</text><rect x="1354" width="67" height="16.8" class="b3"/><text x="1387.5" y="12.5" class="cv">3.4×10<tspan class="s" dy="-5">5</tspan></text><rect x="1421" width="69" height="16.8" class="b7"/><text x="1455.5" y="12.5" class="cv w">7.4×10<tspan class="s" dy="-5">5</tspan></text><text x="1501.5" y="12.5" class="ip">+</text><text x="1523.5" y="12.5" class="ip">+</text></g>
<g transform="translate(0,896.6)"><text x="1009" y="12.5" class="rl">XBB(26)</text><rect x="1017" width="69" height="16.8" class="a5"/><text x="1051.5" y="12.5" class="cv">5.2×10<tspan class="s" dy="-5">5</tspan></text><rect x="1086" width="68" height="16.8" class="a11"/><text x="1120" y="12.5" class="cv w">1.1×10<tspan class="s" dy="-5">6</tspan></text><text x="1165.5" y="12.5" class="ip">+</text><text x="1188.5" y="12.5" class="ip">+</text><text x="1343" y="12.5" class="rl">BA.5.2(28)</text><rect x="1354" width="67" height="16.8" class="b2"/><text x="1387.5" y="12.5" class="cv">2.2×10<tspan class="s" dy="-5">5</tspan></text><rect x="1421" width="69" height="16.8" class="b4"/><text x="1455.5" y="12.5" class="cv">3.8×10<tspan class="s" dy="-5">5</tspan></text><text x="1501.5" y="12.5" class="ip">+</text><text x="1523.5" y="12.5" class="ip">+</text></g>
<g transform="translate(0,912.9)"><text x="1009" y="12.5" class="rl">XBB(26)</text><rect x="1017" width="69" height="16.8" class="a3"/><text x="1051.5" y="12.5" class="cv">2.6×10<tspan class="s" dy="-5">5</tspan></text><rect x="1086" width="68" height="16.8" class="a7"/><text x="1120" y="12.5" class="cv">6.5×10<tspan class="s" dy="-5">5</tspan></text><text x="1165.5" y="12.5" class="ip">+</text><text x="1188.5" y="12.5" class="ip">+</text><text x="1343" y="12.5" class="rl">BA.5.2(30)</text><rect x="1354" width="67" height="16.8" class="b3"/><text x="1387.5" y="12.5" class="cv">2.7×10<tspan class="s" dy="-5">5</tspan></text><rect x="1421" width="69" height="16.8" class="b4"/><text x="1455.5" y="12.5" class="cv">3.5×10<tspan class="s" dy="-5">5</tspan></text><text x="1501.5" y="12.5" class="ip">+</text><text x="1523.5" y="12.5" class="ip">+</text></g>
<g transform="translate(0,929.2)"><text x="1009" y="12.5" class="rl">XBB(26)</text><rect x="1017" width="69" height="16.8" class="a3"/><text x="1051.5" y="12.5" class="cv">2.7×10<tspan class="s" dy="-5">5</tspan></text><rect x="1086" width="68" height="16.8" class="a5"/><text x="1120" y="12.5" class="cv">5.1×10<tspan class="s" dy="-5">5</tspan></text><text x="1165.5" y="12.5" class="ip">+</text><text x="1188.5" y="12.5" class="ip">+</text><text x="1343" y="12.5" class="rl">BA.5.2(30)</text><rect x="1354" width="67" height="16.8" class="b2"/><text x="1387.5" y="12.5" class="cv">1.8×10<tspan class="s" dy="-5">5</tspan></text><rect x="1421" width="69" height="16.8" class="b3"/><text x="1455.5" y="12.5" class="cv">2.5×10<tspan class="s" dy="-5">5</tspan></text><text x="1501.5" y="12.5" class="ip">-</text><text x="1523.5" y="12.5" class="ip">+</text></g>
<g transform="translate(0,945.5)"><text x="1009" y="12.5" class="rl">XBB(26)</text><rect x="1017" width="69" height="16.8" class="a3"/><text x="1051.5" y="12.5" class="cv">3.0×10<tspan class="s" dy="-5">5</tspan></text><rect x="1086" width="68" height="16.8" class="a5"/><text x="1120" y="12.5" class="cv">4.9×10<tspan class="s" dy="-5">5</tspan></text><text x="1165.5" y="12.5" class="ip">+</text><text x="1188.5" y="12.5" class="ip">+</text><text x="1343" y="12.5" class="rl">BA.5.2(32)</text><rect x="1354" width="67" height="16.8" class="b2"/><text x="1387.5" y="12.5" class="cv">1.7×10<tspan class="s" dy="-5">5</tspan></text><rect x="1421" width="69" height="16.8" class="b2"/><text x="1455.5" y="12.5" class="cv">2.2×10<tspan class="s" dy="-5">5</tspan></text><text x="1501.5" y="12.5" class="ip">-</text><text x="1523.5" y="12.5" class="ip">+</text></g>
<g transform="translate(0,961.8)"><text x="1009" y="12.5" class="rl">XBB(28)</text><rect x="1017" width="69" height="16.8" class="a3"/><text x="1051.5" y="12.5" class="cv">2.7×10<tspan class="s" dy="-5">5</tspan></text><rect x="1086" width="68" height="16.8" class="a7"/><text x="1120" y="12.5" class="cv">7.2×10<tspan class="s" dy="-5">5</tspan></text><text x="1165.5" y="12.5" class="ip">+</text><text x="1188.5" y="12.5" class="ip">+</text><text x="1343" y="12.5" class="rl">BA.5.2(32)</text><rect x="1354" width="67" height="16.8" class="b1"/><text x="1387.5" y="12.5" class="cv">1.4×10<tspan class="s" dy="-5">5</tspan></text><rect x="1421" width="69" height="16.8" class="b3"/><text x="1455.5" y="12.5" class="cv">2.6×10<tspan class="s" dy="-5">5</tspan></text><text x="1501.5" y="12.5" class="ip">-</text><text x="1523.5" y="12.5" class="ip">+</text></g>
<g transform="translate(0,978.1)"><text x="1009" y="12.5" class="rl">XBB(28)</text><rect x="1017" width="69" height="16.8" class="a3"/><text x="1051.5" y="12.5" class="cv">3.1×10<tspan class="s" dy="-5">5</tspan></text><rect x="1086" width="68" height="16.8" class="a7"/><text x="1120" y="12.5" class="cv">6.6×10<tspan class="s" dy="-5">5</tspan></text><text x="1165.5" y="12.5" class="ip">+</text><text x="1188.5" y="12.5" class="ip">+</text><text x="1343" y="12.5" class="rl">BA.5.2(32)</text><rect x="1354" width="67" height="16.8" class="b2"/><text x="1387.5" y="12.5" class="cv">2.0×10<tspan class="s" dy="-5">5</tspan></text><rect x="1421" width="69" height="16.8" class="b3"/><text x="1455.5" y="12.5" class="cv">3.1×10<tspan class="s" dy="-5">5</tspan></text><text x="1501.5" y="12.5" class="ip">+</text><text x="1523.5" y="12.5" class="ip">+</text></g>
<g transform="translate(0,994.4)"><text x="1009" y="12.5" class="rl">XBB(30)</text><rect x="1017" width="69" height="16.8" class="a4"/><text x="1051.5" y="12.5" class="cv">3.5×10<tspan class="s" dy="-5">5</tspan></text><rect x="1086" width="68" height="16.8" class="a7"/><text x="1120" y="12.5" class="cv">7.1×10<tspan class="s" dy="-5">5</tspan></text><text x="1165.5" y="12.5" class="ip">+</text><text x="1188.5" y="12.5" class="ip">+</text><text x="1343" y="12.5" class="rl">BA.5.2(32)</text><rect x="1354" width="67" height="16.8" class="b1"/><text x="1387.5" y="12.5" class="cv">8.3×10<tspan class="s" dy="-5">4</tspan></text><rect x="1421" width="69" height="16.8" class="b1"/><text x="1455.5" y="12.5" class="cv">1.3×10<tspan class="s" dy="-5">5</tspan></text><text x="1501.5" y="12.5" class="ip">-</text><text x="1523.5" y="12.5" class="ip">-</text></g>
<g transform="translate(0,1010.7)"><text x="1009" y="12.5" class="rl">XBB(32)</text><rect x="1017" width="69" height="16.3" class="a3"/><text x="1051.5" y="12.5" class="cv">2.9×10<tspan class="s" dy="-5">5</tspan></text><rect x="1086" width="68" height="16.3" class="a8"/><text x="1120" y="12.5" class="cv w">8.3×10<tspan class="s" dy="-5">5</tspan></text><text x="1165.5" y="12.5" class="ip">+</text><text x="1188.5" y="12.5" class="ip">+</text><text x="1343" y="12.5" class="rl">BA.5.2(34)</text><rect x="1354" width="67" height="16.3" class="b2"/><text x="1387.5" y="12.5" class="cv">1.5×10<tspan class="s" dy="-5">5</tspan></text><rect x="1421" width="69" height="16.3" class="b4"/><text x="1455.5" y="12.5" class="cv">4.0×10<tspan class="s" dy="-5">5</tspan></text><text x="1501.5" y="12.5" class="ip">-</text><text x="1523.5" y="12.5" class="ip">+</text></g>

<rect x="1016" y="48" width="139" height="979.5" fill="none" stroke="#000" stroke-width="3"/>
<rect x="1353" y="48" width="138" height="979.5" fill="none" stroke="#000" stroke-width="3"/>
<path d="M1052,1027V1034M1120,1027V1034M1388,1027V1034M1456,1027V1034" stroke="#000" stroke-width="3"/>
<g font-weight="bold" font-size="12.5" text-anchor="end">
<text transform="translate(1056,1042) rotate(-45)">SNP crRNA</text>
<text transform="translate(1122,1044) rotate(-45)">WT crRNA</text>
<text transform="translate(1168,1040) rotate(-45)">SNV crRNA</text>
<text transform="translate(1193,1045) rotate(-45)">WT crRNA</text>
<text transform="translate(1392,1042) rotate(-45)">SNP crRNA</text>
<text transform="translate(1459,1044) rotate(-45)">WT crRNA</text>
<text transform="translate(1504,1040) rotate(-45)">SNV crRNA</text>
<text transform="translate(1530,1045) rotate(-45)">WT crRNA</text>
</g>
</svg>
</body></html>
